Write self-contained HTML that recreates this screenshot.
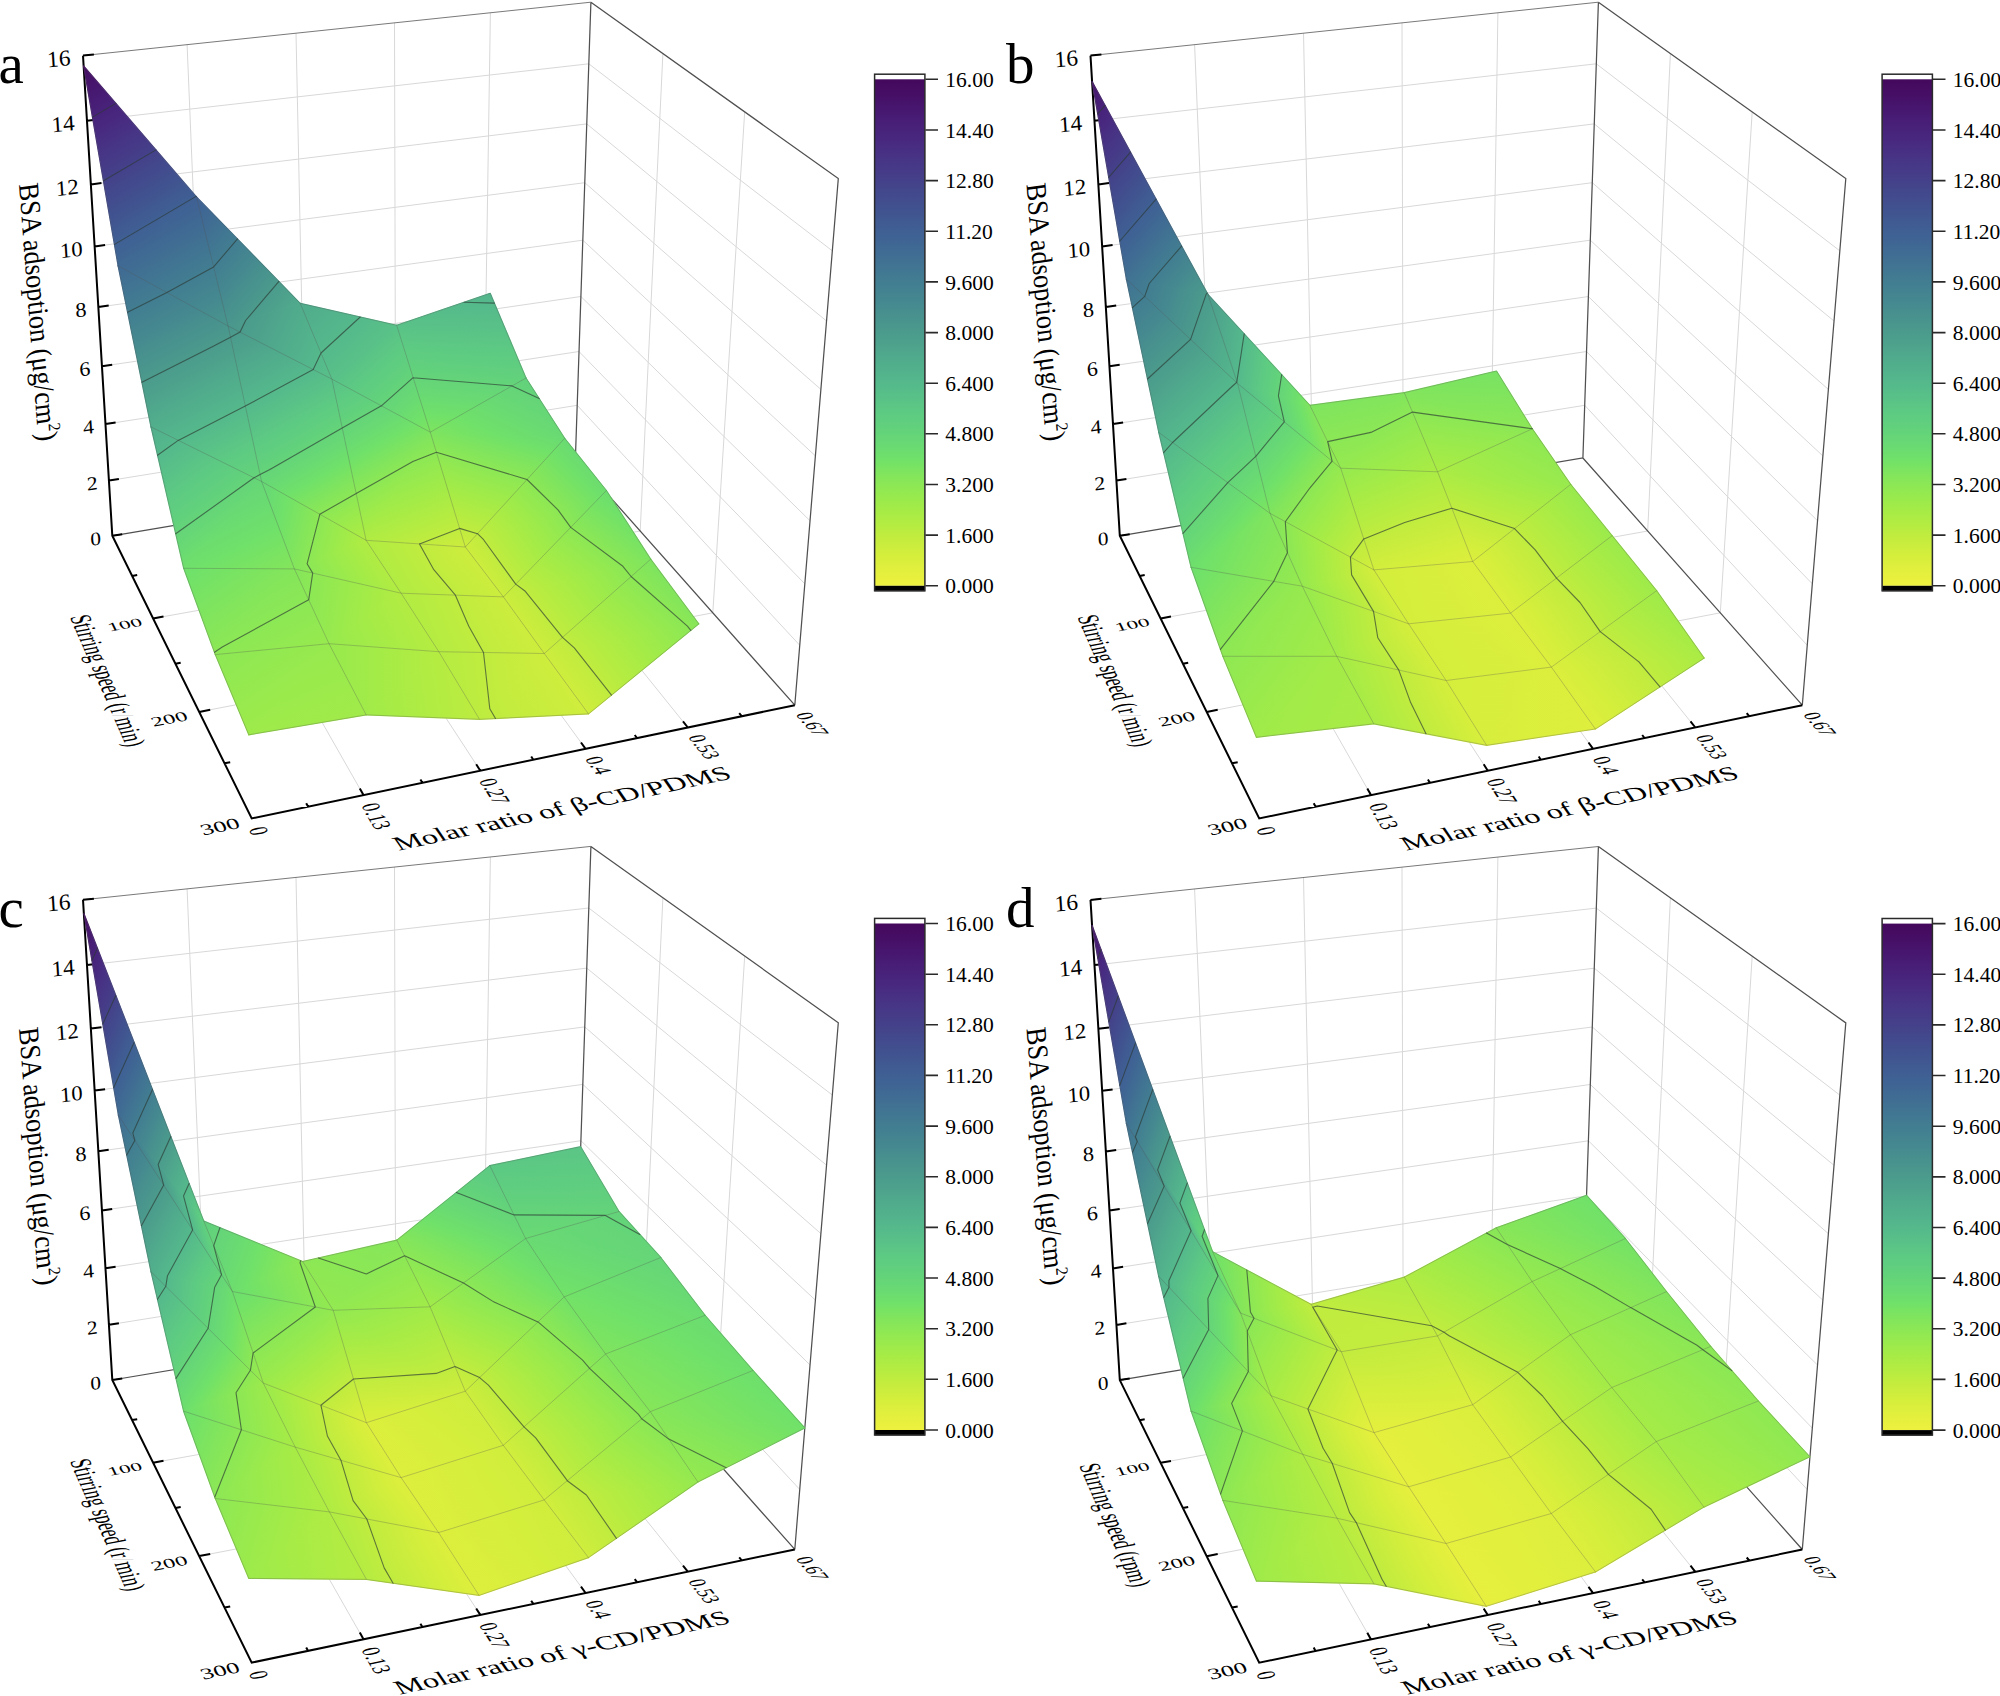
<!DOCTYPE html>
<html><head><meta charset="utf-8"><title>BSA adsorption surfaces</title>
<style>html,body{margin:0;padding:0;background:#fff}svg{display:block}</style></head>
<body><svg width="2000" height="1696" viewBox="0 0 2000 1696">
<rect width="2000" height="1696" fill="#fff"/>
<defs><linearGradient id="v" gradientUnits="userSpaceOnUse"><stop offset="0%" stop-color="#eef03e"/><stop offset="3.1%" stop-color="#e2ef3d"/><stop offset="6.2%" stop-color="#d4ee3c"/><stop offset="9.4%" stop-color="#c3ec3e"/><stop offset="12.5%" stop-color="#b2ec42"/><stop offset="15.6%" stop-color="#a2eb48"/><stop offset="18.8%" stop-color="#92e951"/><stop offset="21.9%" stop-color="#82e55c"/><stop offset="25%" stop-color="#70e169"/><stop offset="28.1%" stop-color="#68d974"/><stop offset="31.2%" stop-color="#62d17c"/><stop offset="34.4%" stop-color="#5dca83"/><stop offset="37.5%" stop-color="#58c088"/><stop offset="40.6%" stop-color="#54b78c"/><stop offset="43.8%" stop-color="#51ae8c"/><stop offset="46.9%" stop-color="#4ea48c"/><stop offset="50%" stop-color="#4b9b8c"/><stop offset="53.1%" stop-color="#48928e"/><stop offset="56.2%" stop-color="#458890"/><stop offset="59.4%" stop-color="#427f91"/><stop offset="62.5%" stop-color="#417692"/><stop offset="65.6%" stop-color="#406c93"/><stop offset="68.8%" stop-color="#3f6394"/><stop offset="71.9%" stop-color="#405a92"/><stop offset="75%" stop-color="#41508f"/><stop offset="78.1%" stop-color="#43478c"/><stop offset="81.2%" stop-color="#453d88"/><stop offset="84.4%" stop-color="#473485"/><stop offset="87.5%" stop-color="#482a80"/><stop offset="90.6%" stop-color="#482179"/><stop offset="93.8%" stop-color="#471870"/><stop offset="96.9%" stop-color="#460f66"/><stop offset="100%" stop-color="#44085c"/></linearGradient>
<linearGradient id="cb" x1="0" y1="1" x2="0" y2="0"><stop offset="0%" stop-color="#eef03e"/><stop offset="3.1%" stop-color="#e2ef3d"/><stop offset="6.2%" stop-color="#d4ee3c"/><stop offset="9.4%" stop-color="#c3ec3e"/><stop offset="12.5%" stop-color="#b2ec42"/><stop offset="15.6%" stop-color="#a2eb48"/><stop offset="18.8%" stop-color="#92e951"/><stop offset="21.9%" stop-color="#82e55c"/><stop offset="25%" stop-color="#70e169"/><stop offset="28.1%" stop-color="#68d974"/><stop offset="31.2%" stop-color="#62d17c"/><stop offset="34.4%" stop-color="#5dca83"/><stop offset="37.5%" stop-color="#58c088"/><stop offset="40.6%" stop-color="#54b78c"/><stop offset="43.8%" stop-color="#51ae8c"/><stop offset="46.9%" stop-color="#4ea48c"/><stop offset="50%" stop-color="#4b9b8c"/><stop offset="53.1%" stop-color="#48928e"/><stop offset="56.2%" stop-color="#458890"/><stop offset="59.4%" stop-color="#427f91"/><stop offset="62.5%" stop-color="#417692"/><stop offset="65.6%" stop-color="#406c93"/><stop offset="68.8%" stop-color="#3f6394"/><stop offset="71.9%" stop-color="#405a92"/><stop offset="75%" stop-color="#41508f"/><stop offset="78.1%" stop-color="#43478c"/><stop offset="81.2%" stop-color="#453d88"/><stop offset="84.4%" stop-color="#473485"/><stop offset="87.5%" stop-color="#482a80"/><stop offset="90.6%" stop-color="#482179"/><stop offset="93.8%" stop-color="#471870"/><stop offset="96.9%" stop-color="#460f66"/><stop offset="100%" stop-color="#44085c"/></linearGradient>
<linearGradient id="a1" href="#v" xlink:href="#v" x1="388" y1="638.5" x2="411.4" y2="-206.7"/>
<linearGradient id="a2" href="#v" xlink:href="#v" x1="374.6" y1="591.3" x2="434.1" y2="-126.5"/>
<linearGradient id="a3" href="#v" xlink:href="#v" x1="616.6" y1="648.3" x2="-88.8" y2="-120.9"/>
<linearGradient id="a4" href="#v" xlink:href="#v" x1="571.3" y1="521.9" x2="99.9" y2="-8.7"/>
<linearGradient id="a5" href="#v" xlink:href="#v" x1="510.7" y1="465.1" x2="61.2" y2="81.3"/>
<linearGradient id="a6" href="#v" xlink:href="#v" x1="633.7" y1="459.2" x2="-109.8" y2="111.7"/>
<linearGradient id="a7" href="#v" xlink:href="#v" x1="384.3" y1="576.4" x2="77.7" y2="55.8"/>
<linearGradient id="a8" href="#v" xlink:href="#v" x1="432.5" y1="628.5" x2="94.8" y2="11"/>
<linearGradient id="a9" href="#v" xlink:href="#v" x1="329.6" y1="646.3" x2="774.2" y2="-298.9"/>
<linearGradient id="a10" href="#v" xlink:href="#v" x1="387.2" y1="575.8" x2="577.3" y2="-58.2"/>
<linearGradient id="a11" href="#v" xlink:href="#v" x1="449.4" y1="587.6" x2="135.6" y2="30.9"/>
<linearGradient id="a12" href="#v" xlink:href="#v" x1="494.9" y1="599.8" x2="209.5" y2="-140.2"/>
<linearGradient id="a13" href="#v" xlink:href="#v" x1="392.8" y1="633.3" x2="73.9" y2="38.3"/>
<linearGradient id="a14" href="#v" xlink:href="#v" x1="450.6" y1="586.2" x2="133.5" y2="33.2"/>
<linearGradient id="a15" href="#v" xlink:href="#v" x1="324.9" y1="675.4" x2="14.7" y2="60.8"/>
<linearGradient id="a16" href="#v" xlink:href="#v" x1="388.1" y1="637.7" x2="78.2" y2="34.2"/>
<linearGradient id="a17" href="#v" xlink:href="#v" x1="426.5" y1="586.6" x2="940.5" y2="62.5"/>
<linearGradient id="a18" href="#v" xlink:href="#v" x1="417.8" y1="581.5" x2="1047.7" y2="125.2"/>
<linearGradient id="a19" href="#v" xlink:href="#v" x1="542.5" y1="441.7" x2="-830.1" y2="1208.5"/>
<linearGradient id="a20" href="#v" xlink:href="#v" x1="556.3" y1="470.1" x2="-648.1" y2="1488.8"/>
<linearGradient id="a21" href="#v" xlink:href="#v" x1="463.1" y1="533" x2="-231.9" y2="355.5"/>
<linearGradient id="a22" href="#v" xlink:href="#v" x1="462.5" y1="482.1" x2="-288" y2="934.5"/>
<linearGradient id="a23" href="#v" xlink:href="#v" x1="339.6" y1="691" x2="-93.1" y2="85.3"/>
<linearGradient id="a24" href="#v" xlink:href="#v" x1="424.3" y1="804.2" x2="-136.9" y2="-308.4"/>
<linearGradient id="a25" href="#v" xlink:href="#v" x1="467.1" y1="645.6" x2="935.2" y2="17.6"/>
<linearGradient id="a26" href="#v" xlink:href="#v" x1="448.1" y1="641.5" x2="1161.5" y2="66.5"/>
<linearGradient id="a27" href="#v" xlink:href="#v" x1="623.4" y1="497.8" x2="-1148.4" y2="1258.1"/>
<linearGradient id="a28" href="#v" xlink:href="#v" x1="637.2" y1="521.7" x2="-1089.1" y2="1492.3"/>
<linearGradient id="a29" href="#v" xlink:href="#v" x1="552.7" y1="608.2" x2="-646.1" y2="426.1"/>
<linearGradient id="a30" href="#v" xlink:href="#v" x1="589.2" y1="507" x2="-909.5" y2="1193.8"/>
<linearGradient id="a31" href="#v" xlink:href="#v" x1="406.8" y1="896.5" x2="-464.8" y2="-385.8"/>
<linearGradient id="a32" href="#v" xlink:href="#v" x1="520.7" y1="983.6" x2="-529.6" y2="-940.5"/>
<linearGradient id="a33" href="#v" xlink:href="#v" x1="500.1" y1="703.7" x2="1101.3" y2="20.3"/>
<linearGradient id="a34" href="#v" xlink:href="#v" x1="485.1" y1="700" x2="1290" y2="67.4"/>
<linearGradient id="a35" href="#v" xlink:href="#v" x1="709" y1="621.7" x2="-1552.4" y2="873"/>
<linearGradient id="a36" href="#v" xlink:href="#v" x1="723.4" y1="546.9" x2="-1713.1" y2="1997.7"/>
<linearGradient id="a37" href="#v" xlink:href="#v" x1="662.8" y1="640.8" x2="-1212.4" y2="656.9"/>
<linearGradient id="a38" href="#v" xlink:href="#v" x1="684.8" y1="614.7" x2="-1373.9" y2="924.8"/>
<linearGradient id="a39" href="#v" xlink:href="#v" x1="489.6" y1="1081" x2="-892.1" y2="-1067.3"/>
<linearGradient id="a40" href="#v" xlink:href="#v" x1="609.1" y1="1318.5" x2="-964.5" y2="-2472.8"/>
<linearGradient id="b1" href="#v" xlink:href="#v" x1="381.9" y1="726.3" x2="449.6" y2="-790"/>
<linearGradient id="b2" href="#v" xlink:href="#v" x1="369.4" y1="589.9" x2="494.2" y2="-306.6"/>
<linearGradient id="b3" href="#v" xlink:href="#v" x1="376.6" y1="756.2" x2="46" y2="-806.6"/>
<linearGradient id="b4" href="#v" xlink:href="#v" x1="498.3" y1="600.6" x2="37.1" y2="-344.3"/>
<linearGradient id="b5" href="#v" xlink:href="#v" x1="412.8" y1="327.4" x2="-14.5" y2="260.9"/>
<linearGradient id="b6" href="#v" xlink:href="#v" x1="385.6" y1="386.5" x2="15.2" y2="470.5"/>
<linearGradient id="b7" href="#v" xlink:href="#v" x1="443.9" y1="393.1" x2="65.9" y2="65.4"/>
<linearGradient id="b8" href="#v" xlink:href="#v" x1="470" y1="387.2" x2="-72.4" y2="200.4"/>
<linearGradient id="b9" href="#v" xlink:href="#v" x1="345.9" y1="635.2" x2="954" y2="-544.7"/>
<linearGradient id="b10" href="#v" xlink:href="#v" x1="396.4" y1="574.9" x2="639.5" y2="-169.1"/>
<linearGradient id="b11" href="#v" xlink:href="#v" x1="394.4" y1="621" x2="58.4" y2="-218.6"/>
<linearGradient id="b12" href="#v" xlink:href="#v" x1="470.8" y1="605.7" x2="176.9" y2="-361.2"/>
<linearGradient id="b13" href="#v" xlink:href="#v" x1="419.7" y1="540.5" x2="-57.2" y2="145.7"/>
<linearGradient id="b14" href="#v" xlink:href="#v" x1="441.3" y1="547.1" x2="-152.3" y2="113.7"/>
<linearGradient id="b15" href="#v" xlink:href="#v" x1="390.1" y1="574.9" x2="-33.6" y2="112.9"/>
<linearGradient id="b16" href="#v" xlink:href="#v" x1="412.9" y1="577.6" x2="-46.9" y2="89.4"/>
<linearGradient id="b17" href="#v" xlink:href="#v" x1="436" y1="589.9" x2="1107.2" y2="-62.5"/>
<linearGradient id="b18" href="#v" xlink:href="#v" x1="430.3" y1="587.9" x2="1231.4" y2="-19.4"/>
<linearGradient id="b19" href="#v" xlink:href="#v" x1="653.3" y1="477.1" x2="-3830.6" y2="1926.1"/>
<linearGradient id="b20" href="#v" xlink:href="#v" x1="655.1" y1="444.3" x2="-3711.9" y2="3138.7"/>
<linearGradient id="b21" href="#v" xlink:href="#v" x1="401.9" y1="503.7" x2="-221.9" y2="546.7"/>
<linearGradient id="b22" href="#v" xlink:href="#v" x1="399.4" y1="550.1" x2="-116.8" y2="859.2"/>
<linearGradient id="b23" href="#v" xlink:href="#v" x1="367.8" y1="623.6" x2="-141.7" y2="173.9"/>
<linearGradient id="b24" href="#v" xlink:href="#v" x1="543.1" y1="647.1" x2="-712.2" y2="48.5"/>
<linearGradient id="b25" href="#v" xlink:href="#v" x1="472.5" y1="642.5" x2="1192.3" y2="-49.7"/>
<linearGradient id="b26" href="#v" xlink:href="#v" x1="464.8" y1="639.7" x2="1365.5" y2="13.5"/>
<linearGradient id="b27" href="#v" xlink:href="#v" x1="582.3" y1="433.9" x2="-2411.9" y2="3573.3"/>
<linearGradient id="b28" href="#v" xlink:href="#v" x1="738.8" y1="423.1" x2="-4842.3" y2="3740.6"/>
<linearGradient id="b29" href="#v" xlink:href="#v" x1="441.9" y1="562.3" x2="-375.4" y2="694.9"/>
<linearGradient id="b30" href="#v" xlink:href="#v" x1="444.1" y1="595.8" x2="-266" y2="1058.8"/>
<linearGradient id="b31" href="#v" xlink:href="#v" x1="441.2" y1="769.9" x2="-557.1" y2="-15.4"/>
<linearGradient id="b32" href="#v" xlink:href="#v" x1="662.1" y1="791.6" x2="-1378.7" y2="-349.6"/>
<linearGradient id="b33" href="#v" xlink:href="#v" x1="514.6" y1="704.4" x2="1165.4" y2="-126"/>
<linearGradient id="b34" href="#v" xlink:href="#v" x1="500.1" y1="704.1" x2="1474.5" y2="-119.3"/>
<linearGradient id="b35" href="#v" xlink:href="#v" x1="839.1" y1="748.6" x2="-5835.5" y2="-386.6"/>
<linearGradient id="b36" href="#v" xlink:href="#v" x1="936.1" y1="664.3" x2="-7779.5" y2="726.2"/>
<linearGradient id="b37" href="#v" xlink:href="#v" x1="475.7" y1="603.1" x2="-484.7" y2="952.4"/>
<linearGradient id="b38" href="#v" xlink:href="#v" x1="494.5" y1="653.1" x2="-436.5" y2="1110.4"/>
<linearGradient id="b39" href="#v" xlink:href="#v" x1="551.7" y1="906.5" x2="-1173" y2="-376.5"/>
<linearGradient id="b40" href="#v" xlink:href="#v" x1="1072.6" y1="990.4" x2="-3801.7" y2="-1200.4"/>
<linearGradient id="c1" href="#v" xlink:href="#v" x1="509.3" y1="725.3" x2="453.2" y2="-432"/>
<linearGradient id="c2" href="#v" xlink:href="#v" x1="487.7" y1="671.6" x2="493.6" y2="-332"/>
<linearGradient id="c3" href="#v" xlink:href="#v" x1="338.2" y1="545.9" x2="614" y2="-159.3"/>
<linearGradient id="c4" href="#v" xlink:href="#v" x1="319.3" y1="563.6" x2="684.2" y2="-224.9"/>
<linearGradient id="c5" href="#v" xlink:href="#v" x1="94.7" y1="1041.8" x2="1147.7" y2="-2120.2"/>
<linearGradient id="c6" href="#v" xlink:href="#v" x1="523.3" y1="663.4" x2="-72" y2="-594.9"/>
<linearGradient id="c7" href="#v" xlink:href="#v" x1="467" y1="468.3" x2="-355.5" y2="182.7"/>
<linearGradient id="c8" href="#v" xlink:href="#v" x1="521.5" y1="341.7" x2="-586.6" y2="724.9"/>
<linearGradient id="c9" href="#v" xlink:href="#v" x1="404.3" y1="214.5" x2="75.3" y2="65.5"/>
<linearGradient id="c10" href="#v" xlink:href="#v" x1="254.4" y1="363.4" x2="96.3" y2="405.7"/>
<linearGradient id="c11" href="#v" xlink:href="#v" x1="190.8" y1="1000.1" x2="1401.8" y2="-1190.7"/>
<linearGradient id="c12" href="#v" xlink:href="#v" x1="403.6" y1="746.9" x2="844.9" y2="-528.3"/>
<linearGradient id="c13" href="#v" xlink:href="#v" x1="352.4" y1="587.2" x2="841" y2="-196.2"/>
<linearGradient id="c14" href="#v" xlink:href="#v" x1="381.2" y1="571" x2="689" y2="-110.2"/>
<linearGradient id="c15" href="#v" xlink:href="#v" x1="403.5" y1="657.7" x2="26.6" y2="-369.5"/>
<linearGradient id="c16" href="#v" xlink:href="#v" x1="343.5" y1="616.6" x2="288.2" y2="-190"/>
<linearGradient id="c17" href="#v" xlink:href="#v" x1="386.9" y1="655.9" x2="-201.8" y2="-139"/>
<linearGradient id="c18" href="#v" xlink:href="#v" x1="422.6" y1="577.7" x2="-56.8" y2="-20.6"/>
<linearGradient id="c19" href="#v" xlink:href="#v" x1="388.3" y1="418.9" x2="-22.8" y2="193.4"/>
<linearGradient id="c20" href="#v" xlink:href="#v" x1="357.8" y1="467.4" x2="-120.1" y2="390.7"/>
<linearGradient id="c21" href="#v" xlink:href="#v" x1="433.5" y1="776.5" x2="967" y2="-545.2"/>
<linearGradient id="c22" href="#v" xlink:href="#v" x1="391.5" y1="827.9" x2="1096.5" y2="-703.7"/>
<linearGradient id="c23" href="#v" xlink:href="#v" x1="425.9" y1="593.1" x2="947.7" y2="-16.3"/>
<linearGradient id="c24" href="#v" xlink:href="#v" x1="414.8" y1="590.1" x2="1083.8" y2="20.2"/>
<linearGradient id="c25" href="#v" xlink:href="#v" x1="289.5" y1="678.2" x2="1999.5" y2="-1537.3"/>
<linearGradient id="c26" href="#v" xlink:href="#v" x1="265.8" y1="686.2" x2="2503" y2="-1707"/>
<linearGradient id="c27" href="#v" xlink:href="#v" x1="386.6" y1="512.6" x2="-341" y2="667.8"/>
<linearGradient id="c28" href="#v" xlink:href="#v" x1="395.4" y1="562.4" x2="-249.1" y2="920.5"/>
<linearGradient id="c29" href="#v" xlink:href="#v" x1="364.3" y1="564.3" x2="-126" y2="249.8"/>
<linearGradient id="c30" href="#v" xlink:href="#v" x1="419.4" y1="516.1" x2="-501.9" y2="650.4"/>
<linearGradient id="c31" href="#v" xlink:href="#v" x1="389" y1="866.9" x2="1353.9" y2="-723.7"/>
<linearGradient id="c32" href="#v" xlink:href="#v" x1="375.4" y1="875.7" x2="1401" y2="-754.2"/>
<linearGradient id="c33" href="#v" xlink:href="#v" x1="462.2" y1="644.8" x2="1062.5" y2="7.2"/>
<linearGradient id="c34" href="#v" xlink:href="#v" x1="450.1" y1="640.4" x2="1227.1" y2="66.1"/>
<linearGradient id="c35" href="#v" xlink:href="#v" x1="263.2" y1="691.6" x2="3712.7" y2="-762.2"/>
<linearGradient id="c36" href="#v" xlink:href="#v" x1="272" y1="763.9" x2="3648.4" y2="-1612.8"/>
<linearGradient id="c37" href="#v" xlink:href="#v" x1="417.5" y1="565.9" x2="-423" y2="819.6"/>
<linearGradient id="c38" href="#v" xlink:href="#v" x1="429" y1="612.5" x2="-268.3" y2="1134.8"/>
<linearGradient id="c39" href="#v" xlink:href="#v" x1="432.3" y1="665.4" x2="-529.8" y2="284.8"/>
<linearGradient id="c40" href="#v" xlink:href="#v" x1="526.6" y1="573" x2="-1064.1" y2="778.2"/>
<linearGradient id="c41" href="#v" xlink:href="#v" x1="400.3" y1="912.2" x2="1582.3" y2="-717.8"/>
<linearGradient id="c42" href="#v" xlink:href="#v" x1="516.8" y1="834.9" x2="1147.9" y2="-429.7"/>
<linearGradient id="c43" href="#v" xlink:href="#v" x1="505.3" y1="707.7" x2="1069.6" y2="-45.9"/>
<linearGradient id="c44" href="#v" xlink:href="#v" x1="475.6" y1="703" x2="1470.1" y2="16.2"/>
<linearGradient id="c45" href="#v" xlink:href="#v" x1="273.5" y1="773.8" x2="4068" y2="-1188.4"/>
<linearGradient id="c46" href="#v" xlink:href="#v" x1="325.8" y1="785.4" x2="2918.2" y2="-1443.5"/>
<linearGradient id="c47" href="#v" xlink:href="#v" x1="465.6" y1="619.4" x2="-585.8" y2="992.2"/>
<linearGradient id="c48" href="#v" xlink:href="#v" x1="481.6" y1="663.4" x2="-508.8" y2="1238.9"/>
<linearGradient id="c49" href="#v" xlink:href="#v" x1="528.1" y1="742.3" x2="-1043.7" y2="300"/>
<linearGradient id="c50" href="#v" xlink:href="#v" x1="643.1" y1="622.4" x2="-1779.2" y2="972.5"/>
<linearGradient id="d1" href="#v" xlink:href="#v" x1="266.8" y1="698.3" x2="1331.2" y2="-811.7"/>
<linearGradient id="d2" href="#v" xlink:href="#v" x1="381.4" y1="618" x2="896.2" y2="-507"/>
<linearGradient id="d3" href="#v" xlink:href="#v" x1="329.6" y1="555.9" x2="853.3" y2="-402"/>
<linearGradient id="d4" href="#v" xlink:href="#v" x1="333.3" y1="553.2" x2="828.2" y2="-384.1"/>
<linearGradient id="d5" href="#v" xlink:href="#v" x1="277.8" y1="610.2" x2="535.1" y2="-885.6"/>
<linearGradient id="d6" href="#v" xlink:href="#v" x1="570.3" y1="1436.3" x2="-2088.8" y2="-8295"/>
<linearGradient id="d7" href="#v" xlink:href="#v" x1="359.6" y1="394.1" x2="-251.2" y2="447"/>
<linearGradient id="d8" href="#v" xlink:href="#v" x1="353.1" y1="432.1" x2="-140.2" y2="711.5"/>
<linearGradient id="d9" href="#v" xlink:href="#v" x1="373.1" y1="187.2" x2="69.9" y2="75.7"/>
<linearGradient id="d10" href="#v" xlink:href="#v" x1="224.3" y1="399.7" x2="148.3" y2="430.4"/>
<linearGradient id="d11" href="#v" xlink:href="#v" x1="418" y1="644.1" x2="1007.2" y2="-498.6"/>
<linearGradient id="d12" href="#v" xlink:href="#v" x1="390.7" y1="664.2" x2="1130.5" y2="-589.6"/>
<linearGradient id="d13" href="#v" xlink:href="#v" x1="367.1" y1="578.7" x2="1035.9" y2="-348"/>
<linearGradient id="d14" href="#v" xlink:href="#v" x1="389.4" y1="568" x2="821.6" y2="-245.1"/>
<linearGradient id="d15" href="#v" xlink:href="#v" x1="359.9" y1="651.4" x2="85.9" y2="-864.1"/>
<linearGradient id="d16" href="#v" xlink:href="#v" x1="336.3" y1="615.8" x2="310.4" y2="-525"/>
<linearGradient id="d17" href="#v" xlink:href="#v" x1="403" y1="556.7" x2="-383.5" y2="149.8"/>
<linearGradient id="d18" href="#v" xlink:href="#v" x1="411.4" y1="545.9" x2="-405.5" y2="141.1"/>
<linearGradient id="d19" href="#v" xlink:href="#v" x1="369.2" y1="390.4" x2="-21.6" y2="216.4"/>
<linearGradient id="d20" href="#v" xlink:href="#v" x1="316.3" y1="466.7" x2="-68.8" y2="476.8"/>
<linearGradient id="d21" href="#v" xlink:href="#v" x1="447.2" y1="694.3" x2="1157.9" y2="-556.7"/>
<linearGradient id="d22" href="#v" xlink:href="#v" x1="383.6" y1="728.3" x2="1484.2" y2="-731.6"/>
<linearGradient id="d23" href="#v" xlink:href="#v" x1="433" y1="593.9" x2="1132.4" y2="-135.6"/>
<linearGradient id="d24" href="#v" xlink:href="#v" x1="425" y1="592.2" x2="1297.7" y2="-99.2"/>
<linearGradient id="d25" href="#v" xlink:href="#v" x1="300" y1="654.3" x2="3128.7" y2="-2154.3"/>
<linearGradient id="d26" href="#v" xlink:href="#v" x1="296.7" y1="654.8" x2="3266.4" y2="-2174.9"/>
<linearGradient id="d27" href="#v" xlink:href="#v" x1="355.8" y1="515.7" x2="-290.7" y2="767.2"/>
<linearGradient id="d28" href="#v" xlink:href="#v" x1="380.2" y1="580.2" x2="-200.3" y2="925.9"/>
<linearGradient id="d29" href="#v" xlink:href="#v" x1="357.6" y1="540.4" x2="-126.8" y2="285.8"/>
<linearGradient id="d30" href="#v" xlink:href="#v" x1="354.9" y1="515.9" x2="-285.5" y2="765.9"/>
<linearGradient id="d31" href="#v" xlink:href="#v" x1="441.7" y1="767.9" x2="1500.7" y2="-696"/>
<linearGradient id="d32" href="#v" xlink:href="#v" x1="366.8" y1="788.4" x2="1914.1" y2="-809"/>
<linearGradient id="d33" href="#v" xlink:href="#v" x1="467.8" y1="645.2" x2="1279.5" y2="-103.6"/>
<linearGradient id="d34" href="#v" xlink:href="#v" x1="463.7" y1="644.2" x2="1369" y2="-80.1"/>
<linearGradient id="d35" href="#v" xlink:href="#v" x1="343.7" y1="701.5" x2="3148.2" y2="-2178.5"/>
<linearGradient id="d36" href="#v" xlink:href="#v" x1="305.9" y1="699.8" x2="4950.3" y2="-2097.7"/>
<linearGradient id="d37" href="#v" xlink:href="#v" x1="394.8" y1="574.8" x2="-367.1" y2="844.7"/>
<linearGradient id="d38" href="#v" xlink:href="#v" x1="414.8" y1="633.4" x2="-249.2" y2="1076"/>
<linearGradient id="d39" href="#v" xlink:href="#v" x1="411.7" y1="645.6" x2="-469.1" y2="341.3"/>
<linearGradient id="d40" href="#v" xlink:href="#v" x1="468.1" y1="568.7" x2="-855.9" y2="885.7"/>
<linearGradient id="d41" href="#v" xlink:href="#v" x1="427.6" y1="840.3" x2="1902.1" y2="-780.8"/>
<linearGradient id="d42" href="#v" xlink:href="#v" x1="518.3" y1="805" x2="1388.1" y2="-580.5"/>
<linearGradient id="d43" href="#v" xlink:href="#v" x1="515.2" y1="704.2" x2="1222" y2="-159.7"/>
<linearGradient id="d44" href="#v" xlink:href="#v" x1="496.2" y1="701.7" x2="1673" y2="-101.1"/>
<linearGradient id="d45" href="#v" xlink:href="#v" x1="334.4" y1="750.5" x2="5293" y2="-1690.5"/>
<linearGradient id="d46" href="#v" xlink:href="#v" x1="370.5" y1="758.2" x2="3606.2" y2="-2051.2"/>
<linearGradient id="d47" href="#v" xlink:href="#v" x1="428" y1="629.2" x2="-414" y2="1011.2"/>
<linearGradient id="d48" href="#v" xlink:href="#v" x1="455.2" y1="689.2" x2="-340.3" y2="1166"/>
<linearGradient id="d49" href="#v" xlink:href="#v" x1="495.2" y1="720" x2="-936" y2="392.9"/>
<linearGradient id="d50" href="#v" xlink:href="#v" x1="572.7" y1="596.5" x2="-1505.4" y2="1257.3"/></defs>
<g transform="translate(0,0)">
<path d="M206.8,519.9 L187.1,44.7 M206.8,519.9 L363.5,795.1 M305.9,503.3 L296,33.2 M305.9,503.3 L480.3,770.7 M395.7,488.2 L394.5,22.9 M395.7,488.2 L585.6,748.8 M483.3,473.5 L490.4,12.8 M483.3,473.5 L687.8,727.5 M640.2,531 L662.9,53.6 M153.1,618.5 L640.2,531 M712.8,612.8 L744.7,111.9 M199.2,711.9 L712.8,612.8 M109,480.6 L577.2,405.3 L799.7,645.2 M105.5,424.1 L579,351.5 L804.8,583.8 M102,366.2 L580.9,296.5 L810,520.7 M98.4,307.1 L582.8,240.2 L815.4,455.9 M94.7,246.4 L584.8,182.7 L820.9,389.4 M90.9,184.4 L586.8,123.9 L826.5,321 M87,120.8 L588.8,63.8 L832.3,250.8" fill="none" stroke="#d8d8d8" stroke-width="1"/>
<path d="M83,55.6 L590.9,2.2" fill="none" stroke="#6a6a6a" stroke-width="0.9"/>
<path d="M590.9,2.2 L838.3,178.6 L794.8,705.2 M590.9,2.2 L575.4,458 M112.3,535.8 L575.4,458 L794.8,705.2" fill="none" stroke="#505050" stroke-width="1.25"/>
<path d="M83,55.6 L112.3,535.8 L251.7,818.4 L794.8,705.2 M112.3,535.8 L122.2,534.2 M109,480.6 L118.9,479 M105.5,424.1 L115.6,422.5 M102,366.2 L112.2,364.8 M98.4,307.1 L108.7,305.6 M94.7,246.4 L105.1,245.1 M90.9,184.4 L101.5,183.1 M87,120.8 L97.7,119.6 M83,55.6 L93.9,54.5 M132.1,575.9 L137.2,575 M153.1,618.5 L163.5,616.6 M175.4,663.7 L180.7,662.7 M199.2,711.9 L210.2,709.8 M224.5,763.3 L230.2,762.2 M308,806.6 L306.2,803.3 M363.5,795.1 L359.8,788.4 M422.4,782.8 L420.4,779.5 M480.3,770.7 L476.2,764.3 M533.3,759.7 L531.2,756.5 M585.6,748.8 L581,742.5 M637.1,738 L634.7,735 M687.8,727.5 L683,721.4 M741.7,716.2 L739.2,713.2" fill="none" stroke="#000" stroke-width="2" stroke-linejoin="miter"/>
<g stroke-linejoin="round">
<polygon points="396.7,325.3 490.2,293.3 526,378" fill="url(#a1)" stroke="url(#a1)" stroke-width="1.2"/>
<polygon points="396.7,325.3 526,378 430.3,432.2" fill="url(#a2)" stroke="url(#a2)" stroke-width="1.2"/>
<polygon points="300.2,303.3 396.7,325.3 331.9,379.1" fill="url(#a3)" stroke="url(#a3)" stroke-width="1.2"/>
<polygon points="396.7,325.3 430.3,432.2 331.9,379.1" fill="url(#a4)" stroke="url(#a4)" stroke-width="1.2"/>
<polygon points="196.5,196.9 300.2,303.3 228.1,326" fill="url(#a5)" stroke="url(#a5)" stroke-width="1.2"/>
<polygon points="300.2,303.3 331.9,379.1 228.1,326" fill="url(#a6)" stroke="url(#a6)" stroke-width="1.2"/>
<polygon points="83.6,65.9 196.5,196.9 118.1,265.8" fill="url(#a7)" stroke="url(#a7)" stroke-width="1.2"/>
<polygon points="196.5,196.9 228.1,326 118.1,265.8" fill="url(#a8)" stroke="url(#a8)" stroke-width="1.2"/>
<polygon points="430.3,432.2 526,378 564.7,438.3" fill="url(#a9)" stroke="url(#a9)" stroke-width="1.2"/>
<polygon points="430.3,432.2 564.7,438.3 465.3,547" fill="url(#a10)" stroke="url(#a10)" stroke-width="1.2"/>
<polygon points="331.9,379.1 430.3,432.2 366.1,540.3" fill="url(#a11)" stroke="url(#a11)" stroke-width="1.2"/>
<polygon points="430.3,432.2 465.3,547 366.1,540.3" fill="url(#a12)" stroke="url(#a12)" stroke-width="1.2"/>
<polygon points="228.1,326 331.9,379.1 261.6,481.5" fill="url(#a13)" stroke="url(#a13)" stroke-width="1.2"/>
<polygon points="331.9,379.1 366.1,540.3 261.6,481.5" fill="url(#a14)" stroke="url(#a14)" stroke-width="1.2"/>
<polygon points="118.1,265.8 228.1,326 151,426.9" fill="url(#a15)" stroke="url(#a15)" stroke-width="1.2"/>
<polygon points="228.1,326 261.6,481.5 151,426.9" fill="url(#a16)" stroke="url(#a16)" stroke-width="1.2"/>
<polygon points="465.3,547 564.7,438.3 606.4,490.5" fill="url(#a17)" stroke="url(#a17)" stroke-width="1.2"/>
<polygon points="465.3,547 606.4,490.5 503.4,596.9" fill="url(#a18)" stroke="url(#a18)" stroke-width="1.2"/>
<polygon points="366.1,540.3 465.3,547 401.1,593.2" fill="url(#a19)" stroke="url(#a19)" stroke-width="1.2"/>
<polygon points="465.3,547 503.4,596.9 401.1,593.2" fill="url(#a20)" stroke="url(#a20)" stroke-width="1.2"/>
<polygon points="261.6,481.5 366.1,540.3 294.4,568.9" fill="url(#a21)" stroke="url(#a21)" stroke-width="1.2"/>
<polygon points="366.1,540.3 401.1,593.2 294.4,568.9" fill="url(#a22)" stroke="url(#a22)" stroke-width="1.2"/>
<polygon points="151,426.9 261.6,481.5 183.7,568.3" fill="url(#a23)" stroke="url(#a23)" stroke-width="1.2"/>
<polygon points="261.6,481.5 294.4,568.9 183.7,568.3" fill="url(#a24)" stroke="url(#a24)" stroke-width="1.2"/>
<polygon points="503.4,596.9 606.4,490.5 650.7,559.2" fill="url(#a25)" stroke="url(#a25)" stroke-width="1.2"/>
<polygon points="503.4,596.9 650.7,559.2 544.3,653.5" fill="url(#a26)" stroke="url(#a26)" stroke-width="1.2"/>
<polygon points="401.1,593.2 503.4,596.9 438.8,651.7" fill="url(#a27)" stroke="url(#a27)" stroke-width="1.2"/>
<polygon points="503.4,596.9 544.3,653.5 438.8,651.7" fill="url(#a28)" stroke="url(#a28)" stroke-width="1.2"/>
<polygon points="294.4,568.9 401.1,593.2 329,643.7" fill="url(#a29)" stroke="url(#a29)" stroke-width="1.2"/>
<polygon points="401.1,593.2 438.8,651.7 329,643.7" fill="url(#a30)" stroke="url(#a30)" stroke-width="1.2"/>
<polygon points="183.7,568.3 294.4,568.9 215.3,654.6" fill="url(#a31)" stroke="url(#a31)" stroke-width="1.2"/>
<polygon points="294.4,568.9 329,643.7 215.3,654.6" fill="url(#a32)" stroke="url(#a32)" stroke-width="1.2"/>
<polygon points="544.3,653.5 650.7,559.2 698.8,623.9" fill="url(#a33)" stroke="url(#a33)" stroke-width="1.2"/>
<polygon points="544.3,653.5 698.8,623.9 588.5,713.9" fill="url(#a34)" stroke="url(#a34)" stroke-width="1.2"/>
<polygon points="438.8,651.7 544.3,653.5 479.5,719.3" fill="url(#a35)" stroke="url(#a35)" stroke-width="1.2"/>
<polygon points="544.3,653.5 588.5,713.9 479.5,719.3" fill="url(#a36)" stroke="url(#a36)" stroke-width="1.2"/>
<polygon points="329,643.7 438.8,651.7 366.2,714.9" fill="url(#a37)" stroke="url(#a37)" stroke-width="1.2"/>
<polygon points="438.8,651.7 479.5,719.3 366.2,714.9" fill="url(#a38)" stroke="url(#a38)" stroke-width="1.2"/>
<polygon points="215.3,654.6 329,643.7 248.8,734.8" fill="url(#a39)" stroke="url(#a39)" stroke-width="1.2"/>
<polygon points="329,643.7 366.2,714.9 248.8,734.8" fill="url(#a40)" stroke="url(#a40)" stroke-width="1.2"/>
</g>
<path d="M83.6,65.9 L196.5,196.9 L300.2,303.3 L396.7,325.3 L490.2,293.3 M118.1,265.8 L228.1,326 L331.9,379.1 L430.3,432.2 L526,378 M151,426.9 L261.6,481.5 L366.1,540.3 L465.3,547 L564.7,438.3 M183.7,568.3 L294.4,568.9 L401.1,593.2 L503.4,596.9 L606.4,490.5 M215.3,654.6 L329,643.7 L438.8,651.7 L544.3,653.5 L650.7,559.2 M248.8,734.8 L366.2,714.9 L479.5,719.3 L588.5,713.9 L698.8,623.9 M83.6,65.9 L118.1,265.8 L151,426.9 L183.7,568.3 L215.3,654.6 L248.8,734.8 M196.5,196.9 L228.1,326 L261.6,481.5 L294.4,568.9 L329,643.7 L366.2,714.9 M300.2,303.3 L331.9,379.1 L366.1,540.3 L401.1,593.2 L438.8,651.7 L479.5,719.3 M396.7,325.3 L430.3,432.2 L465.3,547 L503.4,596.9 L544.3,653.5 L588.5,713.9 M490.2,293.3 L526,378 L564.7,438.3 L606.4,490.5 L650.7,559.2 L698.8,623.9" fill="none" stroke="#505050" stroke-opacity="0.33" stroke-width="0.9" stroke-linejoin="round"/>
<path d="M464,302.2 L494.4,303.1 M512.1,385.9 L413.1,377.7 M360.2,317 L321,353 M413.1,377.7 L381.4,405.8 M278.9,281.4 L245.6,320.5 M237.5,238.9 L213.6,266.9 M321,353 L313.2,369.6 M240.1,332.1 L245.6,320.5 M196.1,196.4 L114.5,244.4 M156,149.9 L103.5,180.8 M115.9,103.4 L92.5,117.1 M213.6,266.9 L166.9,292.5 M512.1,385.9 L539.2,398.6 M477.5,533.7 L459.6,528.4 M527,479.5 L436.4,452.3 M412.9,461.4 L356.2,493.4 M381.4,405.8 L342.2,427.9 M459.6,528.4 L419.5,543.9 M436.4,452.3 L412.9,461.4 M269.9,469.4 L260.1,474.6 M313.2,369.6 L245.3,406 M240.1,332.1 L230.5,337.3 M356.2,493.4 L319.8,514.3 M342.2,427.9 L269.9,469.4 M212.3,346.7 L141.9,382.2 M166.9,292.5 L127.6,312.3 M260.1,474.6 L254,477.8 M245.3,406 L178.2,440.4 M230.5,337.3 L212.3,346.7 M477.5,533.7 L483.6,539.7 M527,479.5 L558,509.9 M483.6,539.7 L515.7,584.1 M558,509.9 L570.7,527.4 M419.5,543.9 L433.8,569.7 M455.4,595.2 L433.8,569.7 M319.8,514.3 L307.1,563.8 M312.7,573.1 L307.1,563.8 M254,477.8 L175.7,533.7 M178.2,440.4 L157.5,455.2 M515.7,584.1 L525.3,591.3 M570.7,527.4 L622.9,566.3 M525.3,591.3 L562.5,637.4 M622.9,566.3 L631.1,576.5 M455.4,595.2 L468.8,626.3 M483.5,652.5 L468.8,626.3 M312.7,573.1 L308.7,599.8 M222.3,647 L214.5,652.3 M308.7,599.8 L222.3,647 M562.5,637.4 L574.3,647.8 M631.1,576.5 L687.4,626.1 M574.3,647.8 L611.5,695.1 M687.4,626.1 L690.8,630.4 M483.5,652.5 L489.8,708.8 M495.5,718.5 L489.8,708.8" fill="none" stroke="#2c3a34" stroke-opacity="0.66" stroke-width="1.1" stroke-linecap="round"/>
<g font-family="Liberation Serif,Times New Roman,serif" fill="#000">
<text transform="matrix(1.0610 -0.1791 0.0595 0.9378 101.4 544.3)" font-size="20" text-anchor="end" x="0" y="0" >0</text>
<text transform="matrix(1.0736 -0.1735 0.0608 0.9593 97.9 489.1)" font-size="20" text-anchor="end" x="0" y="0" >2</text>
<text transform="matrix(1.0865 -0.1675 0.0622 0.9815 94.3 432.7)" font-size="20" text-anchor="end" x="0" y="0" >4</text>
<text transform="matrix(1.0997 -0.1612 0.0637 1.0046 90.7 375)" font-size="20" text-anchor="end" x="0" y="0" >6</text>
<text transform="matrix(1.1132 -0.1546 0.0652 1.0284 86.9 315.9)" font-size="20" text-anchor="end" x="0" y="0" >8</text>
<text transform="matrix(1.1270 -0.1476 0.0668 1.0531 83.1 255.4)" font-size="20" text-anchor="end" x="0" y="0" >10</text>
<text transform="matrix(1.1412 -0.1403 0.0684 1.0787 79.1 193.4)" font-size="20" text-anchor="end" x="0" y="0" >12</text>
<text transform="matrix(1.1558 -0.1325 0.0701 1.1052 75.1 129.9)" font-size="20" text-anchor="end" x="0" y="0" >14</text>
<text transform="matrix(1.1707 -0.1243 0.0718 1.1328 71 64.9)" font-size="20" text-anchor="end" x="0" y="0" >16</text>
<text transform="matrix(1.1254 -0.2029 0.2765 0.5714 143.5 625.5)" font-size="20" text-anchor="end" x="0" y="0" >100</text>
<text transform="matrix(1.1920 -0.2310 0.3140 0.6488 189.2 719.9)" font-size="20" text-anchor="end" x="0" y="0" >200</text>
<text transform="matrix(1.2670 -0.2653 0.3597 0.7431 241.3 827.6)" font-size="20" text-anchor="end" x="0" y="0" >300</text>
<text transform="matrix(0.3632 0.7444 -1.2669 0.2657 248.4 828.9)" font-size="20" text-anchor="start" x="0" y="0" >0</text>
<text transform="matrix(0.4081 0.7227 -1.2294 0.2578 361 805.3)" font-size="20" text-anchor="start" x="0" y="0" >0.13</text>
<text transform="matrix(0.4533 0.7005 -1.1909 0.2498 478.6 780.6)" font-size="20" text-anchor="start" x="0" y="0" >0.27</text>
<text transform="matrix(0.4927 0.6807 -1.1567 0.2426 584.6 758.4)" font-size="20" text-anchor="start" x="0" y="0" >0.4</text>
<text transform="matrix(0.5296 0.6618 -1.1240 0.2357 687.5 736.8)" font-size="20" text-anchor="start" x="0" y="0" >0.53</text>
<text transform="matrix(0.5668 0.6423 -1.0903 0.2287 795 714.3)" font-size="20" text-anchor="start" x="0" y="0" >0.67</text>
<text transform="matrix(1.5086 -0.3273 0.6305 0.9171 566 814.4)" font-size="20" text-anchor="middle" x="0" y="0" >Molar ratio of β-CD/PDMS</text>
<text transform="matrix(0.3292 0.7563 -1.4413 0.2690 98.2 682.4)" font-size="20" text-anchor="middle" x="0" y="0" >Stirring speed (r<tspan fill="#ddd">/</tspan>min)</text>
<text transform="matrix(0.0986 1.3175 -1.4361 0.1975 28.7 313.2)" font-size="20" text-anchor="middle" x="0" y="0" >BSA adsoption (μg/cm<tspan font-size="12" dy="-8">2</tspan><tspan dy="8">)</tspan></text>
</g>
<text x="-1.6" y="82.8" font-size="57" font-family="Liberation Serif,Times New Roman,serif">a</text>
<rect x="874.6" y="79.3" width="50.3" height="506.5" fill="url(#cb)"/>
<rect x="874.6" y="585.8" width="50.3" height="5.4" fill="#000"/>
<rect x="874.6" y="74.2" width="50.3" height="516.6" fill="none" stroke="#2a2a2a" stroke-width="1.5"/>
<path d="M925.4,585.8 h12.6 M925.4,535.1 h12.6 M925.4,484.5 h12.6 M925.4,433.8 h12.6 M925.4,383.2 h12.6 M925.4,332.6 h12.6 M925.4,281.9 h12.6 M925.4,231.2 h12.6 M925.4,180.6 h12.6 M925.4,130 h12.6 M925.4,79.3 h12.6" stroke="#2a2a2a" stroke-width="1.6"/>
<g font-family="Liberation Serif,Times New Roman,serif" font-size="21.5" fill="#000">
<text x="945.3" y="593.4">0.000</text>
<text x="945.3" y="542.8">1.600</text>
<text x="945.3" y="492.1">3.200</text>
<text x="945.3" y="441.4">4.800</text>
<text x="945.3" y="390.8">6.400</text>
<text x="945.3" y="340.2">8.000</text>
<text x="945.3" y="289.5">9.600</text>
<text x="945.3" y="238.8">11.20</text>
<text x="945.3" y="188.2">12.80</text>
<text x="945.3" y="137.6">14.40</text>
<text x="945.3" y="86.9">16.00</text>
</g>
</g>
<g transform="translate(1007.5,0)">
<path d="M206.8,519.9 L187.1,44.7 M206.8,519.9 L363.5,795.1 M305.9,503.3 L296,33.2 M305.9,503.3 L480.3,770.7 M395.7,488.2 L394.5,22.9 M395.7,488.2 L585.6,748.8 M483.3,473.5 L490.4,12.8 M483.3,473.5 L687.8,727.5 M640.2,531 L662.9,53.6 M153.1,618.5 L640.2,531 M712.8,612.8 L744.7,111.9 M199.2,711.9 L712.8,612.8 M109,480.6 L577.2,405.3 L799.7,645.2 M105.5,424.1 L579,351.5 L804.8,583.8 M102,366.2 L580.9,296.5 L810,520.7 M98.4,307.1 L582.8,240.2 L815.4,455.9 M94.7,246.4 L584.8,182.7 L820.9,389.4 M90.9,184.4 L586.8,123.9 L826.5,321 M87,120.8 L588.8,63.8 L832.3,250.8" fill="none" stroke="#d8d8d8" stroke-width="1"/>
<path d="M83,55.6 L590.9,2.2" fill="none" stroke="#6a6a6a" stroke-width="0.9"/>
<path d="M590.9,2.2 L838.3,178.6 L794.8,705.2 M590.9,2.2 L575.4,458 M112.3,535.8 L575.4,458 L794.8,705.2" fill="none" stroke="#505050" stroke-width="1.25"/>
<path d="M83,55.6 L112.3,535.8 L251.7,818.4 L794.8,705.2 M112.3,535.8 L122.2,534.2 M109,480.6 L118.9,479 M105.5,424.1 L115.6,422.5 M102,366.2 L112.2,364.8 M98.4,307.1 L108.7,305.6 M94.7,246.4 L105.1,245.1 M90.9,184.4 L101.5,183.1 M87,120.8 L97.7,119.6 M83,55.6 L93.9,54.5 M132.1,575.9 L137.2,575 M153.1,618.5 L163.5,616.6 M175.4,663.7 L180.7,662.7 M199.2,711.9 L210.2,709.8 M224.5,763.3 L230.2,762.2 M308,806.6 L306.2,803.3 M363.5,795.1 L359.8,788.4 M422.4,782.8 L420.4,779.5 M480.3,770.7 L476.2,764.3 M533.3,759.7 L531.2,756.5 M585.6,748.8 L581,742.5 M637.1,738 L634.7,735 M687.8,727.5 L683,721.4 M741.7,716.2 L739.2,713.2" fill="none" stroke="#000" stroke-width="2" stroke-linejoin="miter"/>
<g stroke-linejoin="round">
<polygon points="396.8,392.7 489,371 524.8,428.8" fill="url(#b1)" stroke="url(#b1)" stroke-width="1.2"/>
<polygon points="396.8,392.7 524.8,428.8 430.1,471.8" fill="url(#b2)" stroke="url(#b2)" stroke-width="1.2"/>
<polygon points="302.4,405.3 396.8,392.7 333.2,468.2" fill="url(#b3)" stroke="url(#b3)" stroke-width="1.2"/>
<polygon points="396.8,392.7 430.1,471.8 333.2,468.2" fill="url(#b4)" stroke="url(#b4)" stroke-width="1.2"/>
<polygon points="200.4,294.4 302.4,405.3 230.1,383.5" fill="url(#b5)" stroke="url(#b5)" stroke-width="1.2"/>
<polygon points="302.4,405.3 333.2,468.2 230.1,383.5" fill="url(#b6)" stroke="url(#b6)" stroke-width="1.2"/>
<polygon points="84.6,81.6 200.4,294.4 118.9,279.2" fill="url(#b7)" stroke="url(#b7)" stroke-width="1.2"/>
<polygon points="200.4,294.4 230.1,383.5 118.9,279.2" fill="url(#b8)" stroke="url(#b8)" stroke-width="1.2"/>
<polygon points="430.1,471.8 524.8,428.8 563.2,484.4" fill="url(#b9)" stroke="url(#b9)" stroke-width="1.2"/>
<polygon points="430.1,471.8 563.2,484.4 465.2,561.5" fill="url(#b10)" stroke="url(#b10)" stroke-width="1.2"/>
<polygon points="333.2,468.2 430.1,471.8 366.4,569.9" fill="url(#b11)" stroke="url(#b11)" stroke-width="1.2"/>
<polygon points="430.1,471.8 465.2,561.5 366.4,569.9" fill="url(#b12)" stroke="url(#b12)" stroke-width="1.2"/>
<polygon points="230.1,383.5 333.2,468.2 262.5,513.3" fill="url(#b13)" stroke="url(#b13)" stroke-width="1.2"/>
<polygon points="333.2,468.2 366.4,569.9 262.5,513.3" fill="url(#b14)" stroke="url(#b14)" stroke-width="1.2"/>
<polygon points="118.9,279.2 230.1,383.5 151.3,432.5" fill="url(#b15)" stroke="url(#b15)" stroke-width="1.2"/>
<polygon points="230.1,383.5 262.5,513.3 151.3,432.5" fill="url(#b16)" stroke="url(#b16)" stroke-width="1.2"/>
<polygon points="465.2,561.5 563.2,484.4 604.6,535.7" fill="url(#b17)" stroke="url(#b17)" stroke-width="1.2"/>
<polygon points="465.2,561.5 604.6,535.7 503.1,613.1" fill="url(#b18)" stroke="url(#b18)" stroke-width="1.2"/>
<polygon points="366.4,569.9 465.2,561.5 401.1,623.8" fill="url(#b19)" stroke="url(#b19)" stroke-width="1.2"/>
<polygon points="465.2,561.5 503.1,613.1 401.1,623.8" fill="url(#b20)" stroke="url(#b20)" stroke-width="1.2"/>
<polygon points="262.5,513.3 366.4,569.9 294.8,586.2" fill="url(#b21)" stroke="url(#b21)" stroke-width="1.2"/>
<polygon points="366.4,569.9 401.1,623.8 294.8,586.2" fill="url(#b22)" stroke="url(#b22)" stroke-width="1.2"/>
<polygon points="151.3,432.5 262.5,513.3 183.6,567.3" fill="url(#b23)" stroke="url(#b23)" stroke-width="1.2"/>
<polygon points="262.5,513.3 294.8,586.2 183.6,567.3" fill="url(#b24)" stroke="url(#b24)" stroke-width="1.2"/>
<polygon points="503.1,613.1 604.6,535.7 649.1,590.7" fill="url(#b25)" stroke="url(#b25)" stroke-width="1.2"/>
<polygon points="503.1,613.1 649.1,590.7 543.9,667.1" fill="url(#b26)" stroke="url(#b26)" stroke-width="1.2"/>
<polygon points="401.1,623.8 503.1,613.1 543.9,667.1" fill="url(#b27)" stroke="url(#b27)" stroke-width="1.2"/>
<polygon points="401.1,623.8 543.9,667.1 438.6,680.5" fill="url(#b28)" stroke="url(#b28)" stroke-width="1.2"/>
<polygon points="294.8,586.2 401.1,623.8 329.2,656.3" fill="url(#b29)" stroke="url(#b29)" stroke-width="1.2"/>
<polygon points="401.1,623.8 438.6,680.5 329.2,656.3" fill="url(#b30)" stroke="url(#b30)" stroke-width="1.2"/>
<polygon points="183.6,567.3 294.8,586.2 215.4,656.3" fill="url(#b31)" stroke="url(#b31)" stroke-width="1.2"/>
<polygon points="294.8,586.2 329.2,656.3 215.4,656.3" fill="url(#b32)" stroke="url(#b32)" stroke-width="1.2"/>
<polygon points="543.9,667.1 649.1,590.7 696.7,658.1" fill="url(#b33)" stroke="url(#b33)" stroke-width="1.2"/>
<polygon points="543.9,667.1 696.7,658.1 587.9,729" fill="url(#b34)" stroke="url(#b34)" stroke-width="1.2"/>
<polygon points="438.6,680.5 543.9,667.1 479.1,745.3" fill="url(#b35)" stroke="url(#b35)" stroke-width="1.2"/>
<polygon points="543.9,667.1 587.9,729 479.1,745.3" fill="url(#b36)" stroke="url(#b36)" stroke-width="1.2"/>
<polygon points="329.2,656.3 438.6,680.5 366.3,723.8" fill="url(#b37)" stroke="url(#b37)" stroke-width="1.2"/>
<polygon points="438.6,680.5 479.1,745.3 366.3,723.8" fill="url(#b38)" stroke="url(#b38)" stroke-width="1.2"/>
<polygon points="215.4,656.3 329.2,656.3 248.9,737.3" fill="url(#b39)" stroke="url(#b39)" stroke-width="1.2"/>
<polygon points="329.2,656.3 366.3,723.8 248.9,737.3" fill="url(#b40)" stroke="url(#b40)" stroke-width="1.2"/>
</g>
<path d="M84.6,81.6 L200.4,294.4 L302.4,405.3 L396.8,392.7 L489,371 M118.9,279.2 L230.1,383.5 L333.2,468.2 L430.1,471.8 L524.8,428.8 M151.3,432.5 L262.5,513.3 L366.4,569.9 L465.2,561.5 L563.2,484.4 M183.6,567.3 L294.8,586.2 L401.1,623.8 L503.1,613.1 L604.6,535.7 M215.4,656.3 L329.2,656.3 L438.6,680.5 L543.9,667.1 L649.1,590.7 M248.9,737.3 L366.3,723.8 L479.1,745.3 L587.9,729 L696.7,658.1 M84.6,81.6 L118.9,279.2 L151.3,432.5 L183.6,567.3 L215.4,656.3 L248.9,737.3 M200.4,294.4 L230.1,383.5 L262.5,513.3 L294.8,586.2 L329.2,656.3 L366.3,723.8 M302.4,405.3 L333.2,468.2 L366.4,569.9 L401.1,623.8 L438.6,680.5 L479.1,745.3 M396.8,392.7 L430.1,471.8 L465.2,561.5 L503.1,613.1 L543.9,667.1 L587.9,729 M489,371 L524.8,428.8 L563.2,484.4 L604.6,535.7 L649.1,590.7 L696.7,658.1" fill="none" stroke="#505050" stroke-opacity="0.33" stroke-width="0.9" stroke-linejoin="round"/>
<path d="M524.8,428.8 L524.8,428.8 M524.8,428.8 L405,412.1 M363.4,432.4 L320.2,441.6 M405,412.1 L363.4,432.4 M274.2,374.6 L270.9,395.8 M236.7,333.9 L229.4,381.3 M320.2,441.6 L324.6,461.1 M276.8,421.8 L270.9,395.8 M199.7,293 L198.7,294.1 M174.1,246.1 L141.7,283.5 M148.6,199.2 L112.3,241 M123,152.2 L101.2,177.4 M97.5,105.3 L90.2,113.8 M229.4,381.3 L229,382.5 M183.1,339.4 L198.7,294.1 M137.2,296.4 L141.7,283.5 M507,528.6 L444.3,508.2 M397.2,522.5 L356.3,538.9 M444.3,508.2 L397.2,522.5 M324.6,461.1 L302.5,487.8 M276.8,421.8 L248.3,456.3 M356.3,538.9 L342.9,557.1 M277.8,521.7 L302.5,487.8 M229,382.5 L222.9,388 M183.1,339.4 L140,379 M137.2,296.4 L124.9,307.7 M248.3,456.3 L220.3,482.6 M165.1,442.5 L222.9,388 M507,528.6 L527.7,549.9 M527.7,549.9 L549,578.1 M342.9,557.1 L344.1,574.9 M277.8,521.7 L279.9,552.7 M366,611.4 L344.1,574.9 M220.3,482.6 L175.5,533.4 M165.1,442.5 L156.1,452.6 M279.9,552.7 L266.3,581.3 M549,578.1 L572.5,602.5 M572.5,602.5 L592.7,631.6 M366,611.4 L370.3,637.8 M391.3,670.1 L370.3,637.8 M266.3,581.3 L212.9,649.3 M592.7,631.6 L631.4,661.9 M631.4,661.9 L652.5,686.9 M391.3,670.1 L402.9,701.9 M418.5,733.8 L402.9,701.9" fill="none" stroke="#2c3a34" stroke-opacity="0.66" stroke-width="1.1" stroke-linecap="round"/>
<g font-family="Liberation Serif,Times New Roman,serif" fill="#000">
<text transform="matrix(1.0610 -0.1791 0.0595 0.9378 101.4 544.3)" font-size="20" text-anchor="end" x="0" y="0" >0</text>
<text transform="matrix(1.0736 -0.1735 0.0608 0.9593 97.9 489.1)" font-size="20" text-anchor="end" x="0" y="0" >2</text>
<text transform="matrix(1.0865 -0.1675 0.0622 0.9815 94.3 432.7)" font-size="20" text-anchor="end" x="0" y="0" >4</text>
<text transform="matrix(1.0997 -0.1612 0.0637 1.0046 90.7 375)" font-size="20" text-anchor="end" x="0" y="0" >6</text>
<text transform="matrix(1.1132 -0.1546 0.0652 1.0284 86.9 315.9)" font-size="20" text-anchor="end" x="0" y="0" >8</text>
<text transform="matrix(1.1270 -0.1476 0.0668 1.0531 83.1 255.4)" font-size="20" text-anchor="end" x="0" y="0" >10</text>
<text transform="matrix(1.1412 -0.1403 0.0684 1.0787 79.1 193.4)" font-size="20" text-anchor="end" x="0" y="0" >12</text>
<text transform="matrix(1.1558 -0.1325 0.0701 1.1052 75.1 129.9)" font-size="20" text-anchor="end" x="0" y="0" >14</text>
<text transform="matrix(1.1707 -0.1243 0.0718 1.1328 71 64.9)" font-size="20" text-anchor="end" x="0" y="0" >16</text>
<text transform="matrix(1.1254 -0.2029 0.2765 0.5714 143.5 625.5)" font-size="20" text-anchor="end" x="0" y="0" >100</text>
<text transform="matrix(1.1920 -0.2310 0.3140 0.6488 189.2 719.9)" font-size="20" text-anchor="end" x="0" y="0" >200</text>
<text transform="matrix(1.2670 -0.2653 0.3597 0.7431 241.3 827.6)" font-size="20" text-anchor="end" x="0" y="0" >300</text>
<text transform="matrix(0.3632 0.7444 -1.2669 0.2657 248.4 828.9)" font-size="20" text-anchor="start" x="0" y="0" >0</text>
<text transform="matrix(0.4081 0.7227 -1.2294 0.2578 361 805.3)" font-size="20" text-anchor="start" x="0" y="0" >0.13</text>
<text transform="matrix(0.4533 0.7005 -1.1909 0.2498 478.6 780.6)" font-size="20" text-anchor="start" x="0" y="0" >0.27</text>
<text transform="matrix(0.4927 0.6807 -1.1567 0.2426 584.6 758.4)" font-size="20" text-anchor="start" x="0" y="0" >0.4</text>
<text transform="matrix(0.5296 0.6618 -1.1240 0.2357 687.5 736.8)" font-size="20" text-anchor="start" x="0" y="0" >0.53</text>
<text transform="matrix(0.5668 0.6423 -1.0903 0.2287 795 714.3)" font-size="20" text-anchor="start" x="0" y="0" >0.67</text>
<text transform="matrix(1.5086 -0.3273 0.6305 0.9171 566 814.4)" font-size="20" text-anchor="middle" x="0" y="0" >Molar ratio of β-CD/PDMS</text>
<text transform="matrix(0.3292 0.7563 -1.4413 0.2690 98.2 682.4)" font-size="20" text-anchor="middle" x="0" y="0" >Stirring speed (r<tspan fill="#ddd">/</tspan>min)</text>
<text transform="matrix(0.0986 1.3175 -1.4361 0.1975 28.7 313.2)" font-size="20" text-anchor="middle" x="0" y="0" >BSA adsoption (μg/cm<tspan font-size="12" dy="-8">2</tspan><tspan dy="8">)</tspan></text>
</g>
<text x="-1.6" y="82.8" font-size="57" font-family="Liberation Serif,Times New Roman,serif">b</text>
<rect x="874.6" y="79.3" width="50.3" height="506.5" fill="url(#cb)"/>
<rect x="874.6" y="585.8" width="50.3" height="5.4" fill="#000"/>
<rect x="874.6" y="74.2" width="50.3" height="516.6" fill="none" stroke="#2a2a2a" stroke-width="1.5"/>
<path d="M925.4,585.8 h12.6 M925.4,535.1 h12.6 M925.4,484.5 h12.6 M925.4,433.8 h12.6 M925.4,383.2 h12.6 M925.4,332.6 h12.6 M925.4,281.9 h12.6 M925.4,231.2 h12.6 M925.4,180.6 h12.6 M925.4,130 h12.6 M925.4,79.3 h12.6" stroke="#2a2a2a" stroke-width="1.6"/>
<g font-family="Liberation Serif,Times New Roman,serif" font-size="21.5" fill="#000">
<text x="945.3" y="593.4">0.000</text>
<text x="945.3" y="542.8">1.600</text>
<text x="945.3" y="492.1">3.200</text>
<text x="945.3" y="441.4">4.800</text>
<text x="945.3" y="390.8">6.400</text>
<text x="945.3" y="340.2">8.000</text>
<text x="945.3" y="289.5">9.600</text>
<text x="945.3" y="238.8">11.20</text>
<text x="945.3" y="188.2">12.80</text>
<text x="945.3" y="137.6">14.40</text>
<text x="945.3" y="86.9">16.00</text>
</g>
</g>
<g transform="translate(0,844.2)">
<path d="M206.8,519.9 L187.1,44.7 M206.8,519.9 L363.5,795.1 M305.9,503.3 L296,33.2 M305.9,503.3 L480.3,770.7 M395.7,488.2 L394.5,22.9 M395.7,488.2 L585.6,748.8 M483.3,473.5 L490.4,12.8 M483.3,473.5 L687.8,727.5 M640.2,531 L662.9,53.6 M153.1,618.5 L640.2,531 M712.8,612.8 L744.7,111.9 M199.2,711.9 L712.8,612.8 M109,480.6 L577.2,405.3 L799.7,645.2 M105.5,424.1 L579,351.5 L804.8,583.8 M102,366.2 L580.9,296.5 L810,520.7 M98.4,307.1 L582.8,240.2 L815.4,455.9 M94.7,246.4 L584.8,182.7 L820.9,389.4 M90.9,184.4 L586.8,123.9 L826.5,321 M87,120.8 L588.8,63.8 L832.3,250.8" fill="none" stroke="#d8d8d8" stroke-width="1"/>
<path d="M83,55.6 L590.9,2.2" fill="none" stroke="#6a6a6a" stroke-width="0.9"/>
<path d="M590.9,2.2 L838.3,178.6 L794.8,705.2 M590.9,2.2 L575.4,458 M112.3,535.8 L575.4,458 L794.8,705.2" fill="none" stroke="#505050" stroke-width="1.25"/>
<path d="M83,55.6 L112.3,535.8 L251.7,818.4 L794.8,705.2 M112.3,535.8 L122.2,534.2 M109,480.6 L118.9,479 M105.5,424.1 L115.6,422.5 M102,366.2 L112.2,364.8 M98.4,307.1 L108.7,305.6 M94.7,246.4 L105.1,245.1 M90.9,184.4 L101.5,183.1 M87,120.8 L97.7,119.6 M83,55.6 L93.9,54.5 M132.1,575.9 L137.2,575 M153.1,618.5 L163.5,616.6 M175.4,663.7 L180.7,662.7 M199.2,711.9 L210.2,709.8 M224.5,763.3 L230.2,762.2 M308,806.6 L306.2,803.3 M363.5,795.1 L359.8,788.4 M422.4,782.8 L420.4,779.5 M480.3,770.7 L476.2,764.3 M533.3,759.7 L531.2,756.5 M585.6,748.8 L581,742.5 M637.1,738 L634.7,735 M687.8,727.5 L683,721.4 M741.7,716.2 L739.2,713.2" fill="none" stroke="#000" stroke-width="2" stroke-linejoin="miter"/>
<g stroke-linejoin="round">
<polygon points="489.8,321.4 580.7,302.5 619,367.3" fill="url(#c1)" stroke="url(#c1)" stroke-width="1.2"/>
<polygon points="489.8,321.4 619,367.3 525.6,394.3" fill="url(#c2)" stroke="url(#c2)" stroke-width="1.2"/>
<polygon points="396.8,396 489.8,321.4 525.6,394.3" fill="url(#c3)" stroke="url(#c3)" stroke-width="1.2"/>
<polygon points="396.8,396 525.6,394.3 430.1,462.6" fill="url(#c4)" stroke="url(#c4)" stroke-width="1.2"/>
<polygon points="302.7,417.3 396.8,396 333.2,466.1" fill="url(#c5)" stroke="url(#c5)" stroke-width="1.2"/>
<polygon points="396.8,396 430.1,462.6 333.2,466.1" fill="url(#c6)" stroke="url(#c6)" stroke-width="1.2"/>
<polygon points="203.8,376.9 302.7,417.3 232.4,447.3" fill="url(#c7)" stroke="url(#c7)" stroke-width="1.2"/>
<polygon points="302.7,417.3 333.2,466.1 232.4,447.3" fill="url(#c8)" stroke="url(#c8)" stroke-width="1.2"/>
<polygon points="83.9,69.3 203.8,376.9 118.4,270.9" fill="url(#c9)" stroke="url(#c9)" stroke-width="1.2"/>
<polygon points="203.8,376.9 232.4,447.3 118.4,270.9" fill="url(#c10)" stroke="url(#c10)" stroke-width="1.2"/>
<polygon points="525.6,394.3 619,367.3 660.8,413.3" fill="url(#c11)" stroke="url(#c11)" stroke-width="1.2"/>
<polygon points="525.6,394.3 660.8,413.3 564.2,452.7" fill="url(#c12)" stroke="url(#c12)" stroke-width="1.2"/>
<polygon points="430.1,462.6 525.6,394.3 564.2,452.7" fill="url(#c13)" stroke="url(#c13)" stroke-width="1.2"/>
<polygon points="430.1,462.6 564.2,452.7 465.3,547" fill="url(#c14)" stroke="url(#c14)" stroke-width="1.2"/>
<polygon points="333.2,466.1 430.1,462.6 465.3,547" fill="url(#c15)" stroke="url(#c15)" stroke-width="1.2"/>
<polygon points="333.2,466.1 465.3,547 366.4,578.5" fill="url(#c16)" stroke="url(#c16)" stroke-width="1.2"/>
<polygon points="232.4,447.3 333.2,466.1 263.3,538.9" fill="url(#c17)" stroke="url(#c17)" stroke-width="1.2"/>
<polygon points="333.2,466.1 366.4,578.5 263.3,538.9" fill="url(#c18)" stroke="url(#c18)" stroke-width="1.2"/>
<polygon points="118.4,270.9 232.4,447.3 151,427.5" fill="url(#c19)" stroke="url(#c19)" stroke-width="1.2"/>
<polygon points="232.4,447.3 263.3,538.9 151,427.5" fill="url(#c20)" stroke="url(#c20)" stroke-width="1.2"/>
<polygon points="564.2,452.7 660.8,413.3 705.1,471.1" fill="url(#c21)" stroke="url(#c21)" stroke-width="1.2"/>
<polygon points="564.2,452.7 705.1,471.1 605.6,509.8" fill="url(#c22)" stroke="url(#c22)" stroke-width="1.2"/>
<polygon points="465.3,547 564.2,452.7 605.6,509.8" fill="url(#c23)" stroke="url(#c23)" stroke-width="1.2"/>
<polygon points="465.3,547 605.6,509.8 503.3,601.1" fill="url(#c24)" stroke="url(#c24)" stroke-width="1.2"/>
<polygon points="366.4,578.5 465.3,547 503.3,601.1" fill="url(#c25)" stroke="url(#c25)" stroke-width="1.2"/>
<polygon points="366.4,578.5 503.3,601.1 401.1,633.4" fill="url(#c26)" stroke="url(#c26)" stroke-width="1.2"/>
<polygon points="263.3,538.9 366.4,578.5 295.2,602.9" fill="url(#c27)" stroke="url(#c27)" stroke-width="1.2"/>
<polygon points="366.4,578.5 401.1,633.4 295.2,602.9" fill="url(#c28)" stroke="url(#c28)" stroke-width="1.2"/>
<polygon points="151,427.5 263.3,538.9 183.6,567" fill="url(#c29)" stroke="url(#c29)" stroke-width="1.2"/>
<polygon points="263.3,538.9 295.2,602.9 183.6,567" fill="url(#c30)" stroke="url(#c30)" stroke-width="1.2"/>
<polygon points="605.6,509.8 705.1,471.1 753,526.3" fill="url(#c31)" stroke="url(#c31)" stroke-width="1.2"/>
<polygon points="605.6,509.8 753,526.3 650.3,567.5" fill="url(#c32)" stroke="url(#c32)" stroke-width="1.2"/>
<polygon points="503.3,601.1 605.6,509.8 650.3,567.5" fill="url(#c33)" stroke="url(#c33)" stroke-width="1.2"/>
<polygon points="503.3,601.1 650.3,567.5 544.2,655.7" fill="url(#c34)" stroke="url(#c34)" stroke-width="1.2"/>
<polygon points="401.1,633.4 503.3,601.1 438.6,688.4" fill="url(#c35)" stroke="url(#c35)" stroke-width="1.2"/>
<polygon points="503.3,601.1 544.2,655.7 438.6,688.4" fill="url(#c36)" stroke="url(#c36)" stroke-width="1.2"/>
<polygon points="295.2,602.9 401.1,633.4 329.4,667.7" fill="url(#c37)" stroke="url(#c37)" stroke-width="1.2"/>
<polygon points="401.1,633.4 438.6,688.4 329.4,667.7" fill="url(#c38)" stroke="url(#c38)" stroke-width="1.2"/>
<polygon points="183.6,567 295.2,602.9 215.3,654.3" fill="url(#c39)" stroke="url(#c39)" stroke-width="1.2"/>
<polygon points="295.2,602.9 329.4,667.7 215.3,654.3" fill="url(#c40)" stroke="url(#c40)" stroke-width="1.2"/>
<polygon points="650.3,567.5 753,526.3 804.8,583.8" fill="url(#c41)" stroke="url(#c41)" stroke-width="1.2"/>
<polygon points="650.3,567.5 804.8,583.8 697.9,637.8" fill="url(#c42)" stroke="url(#c42)" stroke-width="1.2"/>
<polygon points="544.2,655.7 650.3,567.5 697.9,637.8" fill="url(#c43)" stroke="url(#c43)" stroke-width="1.2"/>
<polygon points="544.2,655.7 697.9,637.8 588.5,713.4" fill="url(#c44)" stroke="url(#c44)" stroke-width="1.2"/>
<polygon points="438.6,688.4 544.2,655.7 588.5,713.4" fill="url(#c45)" stroke="url(#c45)" stroke-width="1.2"/>
<polygon points="438.6,688.4 588.5,713.4 479,751.2" fill="url(#c46)" stroke="url(#c46)" stroke-width="1.2"/>
<polygon points="329.4,667.7 438.6,688.4 366.4,735.2" fill="url(#c47)" stroke="url(#c47)" stroke-width="1.2"/>
<polygon points="438.6,688.4 479,751.2 366.4,735.2" fill="url(#c48)" stroke="url(#c48)" stroke-width="1.2"/>
<polygon points="215.3,654.3 329.4,667.7 248.8,734.2" fill="url(#c49)" stroke="url(#c49)" stroke-width="1.2"/>
<polygon points="329.4,667.7 366.4,735.2 248.8,734.2" fill="url(#c50)" stroke="url(#c50)" stroke-width="1.2"/>
</g>
<path d="M83.9,69.3 L203.8,376.9 L302.7,417.3 L396.8,396 L489.8,321.4 L580.7,302.5 M118.4,270.9 L232.4,447.3 L333.2,466.1 L430.1,462.6 L525.6,394.3 L619,367.3 M151,427.5 L263.3,538.9 L366.4,578.5 L465.3,547 L564.2,452.7 L660.8,413.3 M183.6,567 L295.2,602.9 L401.1,633.4 L503.3,601.1 L605.6,509.8 L705.1,471.1 M215.3,654.3 L329.4,667.7 L438.6,688.4 L544.2,655.7 L650.3,567.5 L753,526.3 M248.8,734.2 L366.4,735.2 L479,751.2 L588.5,713.4 L697.9,637.8 L804.8,583.8 M83.9,69.3 L118.4,270.9 L151,427.5 L183.6,567 L215.3,654.3 L248.8,734.2 M203.8,376.9 L232.4,447.3 L263.3,538.9 L295.2,602.9 L329.4,667.7 L366.4,735.2 M302.7,417.3 L333.2,466.1 L366.4,578.5 L401.1,633.4 L438.6,688.4 L479,751.2 M396.8,396 L430.1,462.6 L465.3,547 L503.3,601.1 L544.2,655.7 L588.5,713.4 M489.8,321.4 L525.6,394.3 L564.2,452.7 L605.6,509.8 L650.3,567.5 L697.9,637.8 M580.7,302.5 L619,367.3 L660.8,413.3 L705.1,471.1 L753,526.3 L804.8,583.8" fill="none" stroke="#505050" stroke-opacity="0.33" stroke-width="0.9" stroke-linejoin="round"/>
<path d="M605.4,371.2 L514,370.7 M456.4,348.2 L514,370.7 M463.5,438.8 L404.6,411.6 M318.4,413.8 L366.3,429.7 M404.6,411.6 L366.3,429.7 M300.7,416.5 L300,418.5 M219.9,383.5 L213.7,401.4 M315.3,462.8 L300,418.5 M189.1,339.3 L183.5,351.7 M170.8,292.2 L158.1,320.2 M152.5,245.2 L132.8,288.7 M134.1,198.2 L113.7,243.2 M115.8,151.2 L102.8,179.8 M97.4,104.1 L91.9,116.3 M213.7,401.4 L221.5,430.5 M192.6,385.7 L183.5,351.7 M163.7,340.9 L158.1,320.2 M134.8,296.2 L132.8,288.7 M605.4,371.2 L639.8,390.2 M463.5,438.8 L494.1,457.9 M479.6,533.4 L455,522.3 M494.1,457.9 L538,477.7 M455,522.3 L436.2,529.2 M436.2,529.2 L353.5,534.8 M315.3,462.8 L253.1,508.8 M353.5,534.8 L320.9,561 M221.5,430.5 L214.7,443 M192.6,385.7 L167.5,431.5 M163.7,340.9 L141.4,381.5 M134.8,296.2 L126.7,310.8 M253.1,508.8 L250.4,526.1 M208.1,484.1 L214.7,443 M165.8,442.1 L167.5,431.5 M479.6,533.4 L488.4,540.9 M538,477.7 L582.6,515.9 M488.4,540.9 L524,582.6 M582.6,515.9 L589.6,524.1 M320.9,561 L327.4,591.8 M340.9,616 L327.4,591.8 M250.4,526.1 L236,548.5 M208.1,484.1 L176,534.2 M165.8,442.1 L157.5,455.1 M241.4,585.6 L236,548.5 M524,582.6 L535.7,593.7 M589.6,524.1 L638.5,570.2 M535.7,593.7 L567.3,636.5 M638.5,570.2 L641.7,574.6 M340.9,616 L353.1,656.4 M366.8,674.8 L353.1,656.4 M241.4,585.6 L214.8,652.8 M726.2,623.5 L668.8,594.9 M567.3,636.5 L586.4,650.8 M641.7,574.6 L668.8,594.9 M586.4,650.8 L616.4,694.2 M366.8,674.8 L384.2,723.7 M393.1,739 L384.2,723.7" fill="none" stroke="#2c3a34" stroke-opacity="0.66" stroke-width="1.1" stroke-linecap="round"/>
<g font-family="Liberation Serif,Times New Roman,serif" fill="#000">
<text transform="matrix(1.0610 -0.1791 0.0595 0.9378 101.4 544.3)" font-size="20" text-anchor="end" x="0" y="0" >0</text>
<text transform="matrix(1.0736 -0.1735 0.0608 0.9593 97.9 489.1)" font-size="20" text-anchor="end" x="0" y="0" >2</text>
<text transform="matrix(1.0865 -0.1675 0.0622 0.9815 94.3 432.7)" font-size="20" text-anchor="end" x="0" y="0" >4</text>
<text transform="matrix(1.0997 -0.1612 0.0637 1.0046 90.7 375)" font-size="20" text-anchor="end" x="0" y="0" >6</text>
<text transform="matrix(1.1132 -0.1546 0.0652 1.0284 86.9 315.9)" font-size="20" text-anchor="end" x="0" y="0" >8</text>
<text transform="matrix(1.1270 -0.1476 0.0668 1.0531 83.1 255.4)" font-size="20" text-anchor="end" x="0" y="0" >10</text>
<text transform="matrix(1.1412 -0.1403 0.0684 1.0787 79.1 193.4)" font-size="20" text-anchor="end" x="0" y="0" >12</text>
<text transform="matrix(1.1558 -0.1325 0.0701 1.1052 75.1 129.9)" font-size="20" text-anchor="end" x="0" y="0" >14</text>
<text transform="matrix(1.1707 -0.1243 0.0718 1.1328 71 64.9)" font-size="20" text-anchor="end" x="0" y="0" >16</text>
<text transform="matrix(1.1254 -0.2029 0.2765 0.5714 143.5 625.5)" font-size="20" text-anchor="end" x="0" y="0" >100</text>
<text transform="matrix(1.1920 -0.2310 0.3140 0.6488 189.2 719.9)" font-size="20" text-anchor="end" x="0" y="0" >200</text>
<text transform="matrix(1.2670 -0.2653 0.3597 0.7431 241.3 827.6)" font-size="20" text-anchor="end" x="0" y="0" >300</text>
<text transform="matrix(0.3632 0.7444 -1.2669 0.2657 248.4 828.9)" font-size="20" text-anchor="start" x="0" y="0" >0</text>
<text transform="matrix(0.4081 0.7227 -1.2294 0.2578 361 805.3)" font-size="20" text-anchor="start" x="0" y="0" >0.13</text>
<text transform="matrix(0.4533 0.7005 -1.1909 0.2498 478.6 780.6)" font-size="20" text-anchor="start" x="0" y="0" >0.27</text>
<text transform="matrix(0.4927 0.6807 -1.1567 0.2426 584.6 758.4)" font-size="20" text-anchor="start" x="0" y="0" >0.4</text>
<text transform="matrix(0.5296 0.6618 -1.1240 0.2357 687.5 736.8)" font-size="20" text-anchor="start" x="0" y="0" >0.53</text>
<text transform="matrix(0.5668 0.6423 -1.0903 0.2287 795 714.3)" font-size="20" text-anchor="start" x="0" y="0" >0.67</text>
<text transform="matrix(1.5086 -0.3273 0.6305 0.9171 566 814.4)" font-size="20" text-anchor="middle" x="0" y="0" >Molar ratio of γ-CD/PDMS</text>
<text transform="matrix(0.3292 0.7563 -1.4413 0.2690 98.2 682.4)" font-size="20" text-anchor="middle" x="0" y="0" >Stirring speed (r<tspan fill="#ddd">/</tspan>min)</text>
<text transform="matrix(0.0986 1.3175 -1.4361 0.1975 28.7 313.2)" font-size="20" text-anchor="middle" x="0" y="0" >BSA adsoption (μg/cm<tspan font-size="12" dy="-8">2</tspan><tspan dy="8">)</tspan></text>
</g>
<text x="-1.6" y="82.8" font-size="57" font-family="Liberation Serif,Times New Roman,serif">c</text>
<rect x="874.6" y="79.3" width="50.3" height="506.5" fill="url(#cb)"/>
<rect x="874.6" y="585.8" width="50.3" height="5.4" fill="#000"/>
<rect x="874.6" y="74.2" width="50.3" height="516.6" fill="none" stroke="#2a2a2a" stroke-width="1.5"/>
<path d="M925.4,585.8 h12.6 M925.4,535.1 h12.6 M925.4,484.5 h12.6 M925.4,433.8 h12.6 M925.4,383.2 h12.6 M925.4,332.6 h12.6 M925.4,281.9 h12.6 M925.4,231.2 h12.6 M925.4,180.6 h12.6 M925.4,130 h12.6 M925.4,79.3 h12.6" stroke="#2a2a2a" stroke-width="1.6"/>
<g font-family="Liberation Serif,Times New Roman,serif" font-size="21.5" fill="#000">
<text x="945.3" y="593.4">0.000</text>
<text x="945.3" y="542.8">1.600</text>
<text x="945.3" y="492.1">3.200</text>
<text x="945.3" y="441.4">4.800</text>
<text x="945.3" y="390.8">6.400</text>
<text x="945.3" y="340.2">8.000</text>
<text x="945.3" y="289.5">9.600</text>
<text x="945.3" y="238.8">11.20</text>
<text x="945.3" y="188.2">12.80</text>
<text x="945.3" y="137.6">14.40</text>
<text x="945.3" y="86.9">16.00</text>
</g>
</g>
<g transform="translate(1007.5,844.3)">
<path d="M206.8,519.9 L187.1,44.7 M206.8,519.9 L363.5,795.1 M305.9,503.3 L296,33.2 M305.9,503.3 L480.3,770.7 M395.7,488.2 L394.5,22.9 M395.7,488.2 L585.6,748.8 M483.3,473.5 L490.4,12.8 M483.3,473.5 L687.8,727.5 M640.2,531 L662.9,53.6 M153.1,618.5 L640.2,531 M712.8,612.8 L744.7,111.9 M199.2,711.9 L712.8,612.8 M109,480.6 L577.2,405.3 L799.7,645.2 M105.5,424.1 L579,351.5 L804.8,583.8 M102,366.2 L580.9,296.5 L810,520.7 M98.4,307.1 L582.8,240.2 L815.4,455.9 M94.7,246.4 L584.8,182.7 L820.9,389.4 M90.9,184.4 L586.8,123.9 L826.5,321 M87,120.8 L588.8,63.8 L832.3,250.8" fill="none" stroke="#d8d8d8" stroke-width="1"/>
<path d="M83,55.6 L590.9,2.2" fill="none" stroke="#6a6a6a" stroke-width="0.9"/>
<path d="M590.9,2.2 L838.3,178.6 L794.8,705.2 M590.9,2.2 L575.4,458 M112.3,535.8 L575.4,458 L794.8,705.2" fill="none" stroke="#505050" stroke-width="1.25"/>
<path d="M83,55.6 L112.3,535.8 L251.7,818.4 L794.8,705.2 M112.3,535.8 L122.2,534.2 M109,480.6 L118.9,479 M105.5,424.1 L115.6,422.5 M102,366.2 L112.2,364.8 M98.4,307.1 L108.7,305.6 M94.7,246.4 L105.1,245.1 M90.9,184.4 L101.5,183.1 M87,120.8 L97.7,119.6 M83,55.6 L93.9,54.5 M132.1,575.9 L137.2,575 M153.1,618.5 L163.5,616.6 M175.4,663.7 L180.7,662.7 M199.2,711.9 L210.2,709.8 M224.5,763.3 L230.2,762.2 M308,806.6 L306.2,803.3 M363.5,795.1 L359.8,788.4 M422.4,782.8 L420.4,779.5 M480.3,770.7 L476.2,764.3 M533.3,759.7 L531.2,756.5 M585.6,748.8 L581,742.5 M637.1,738 L634.7,735 M687.8,727.5 L683,721.4 M741.7,716.2 L739.2,713.2" fill="none" stroke="#000" stroke-width="2" stroke-linejoin="miter"/>
<g stroke-linejoin="round">
<polygon points="488.8,383.5 579.1,351 617.9,394.2" fill="url(#d1)" stroke="url(#d1)" stroke-width="1.2"/>
<polygon points="488.8,383.5 617.9,394.2 524.6,437.3" fill="url(#d2)" stroke="url(#d2)" stroke-width="1.2"/>
<polygon points="396.9,432.8 488.8,383.5 524.6,437.3" fill="url(#d3)" stroke="url(#d3)" stroke-width="1.2"/>
<polygon points="396.9,432.8 524.6,437.3 430,491.6" fill="url(#d4)" stroke="url(#d4)" stroke-width="1.2"/>
<polygon points="303.6,460.1 396.9,432.8 430,491.6" fill="url(#d5)" stroke="url(#d5)" stroke-width="1.2"/>
<polygon points="303.6,460.1 430,491.6 333.8,507.4" fill="url(#d6)" stroke="url(#d6)" stroke-width="1.2"/>
<polygon points="205.1,407.4 303.6,460.1 233.1,468.8" fill="url(#d7)" stroke="url(#d7)" stroke-width="1.2"/>
<polygon points="303.6,460.1 333.8,507.4 233.1,468.8" fill="url(#d8)" stroke="url(#d8)" stroke-width="1.2"/>
<polygon points="84.6,81.1 205.1,407.4 118.9,279" fill="url(#d9)" stroke="url(#d9)" stroke-width="1.2"/>
<polygon points="205.1,407.4 233.1,468.8 118.9,279" fill="url(#d10)" stroke="url(#d10)" stroke-width="1.2"/>
<polygon points="524.6,437.3 617.9,394.2 659,447.3" fill="url(#d11)" stroke="url(#d11)" stroke-width="1.2"/>
<polygon points="524.6,437.3 659,447.3 563,490.4" fill="url(#d12)" stroke="url(#d12)" stroke-width="1.2"/>
<polygon points="430,491.6 524.6,437.3 563,490.4" fill="url(#d13)" stroke="url(#d13)" stroke-width="1.2"/>
<polygon points="430,491.6 563,490.4 465.2,560.4" fill="url(#d14)" stroke="url(#d14)" stroke-width="1.2"/>
<polygon points="333.8,507.4 430,491.6 465.2,560.4" fill="url(#d15)" stroke="url(#d15)" stroke-width="1.2"/>
<polygon points="333.8,507.4 465.2,560.4 366.5,588.3" fill="url(#d16)" stroke="url(#d16)" stroke-width="1.2"/>
<polygon points="233.1,468.8 333.8,507.4 263.6,551.5" fill="url(#d17)" stroke="url(#d17)" stroke-width="1.2"/>
<polygon points="333.8,507.4 366.5,588.3 263.6,551.5" fill="url(#d18)" stroke="url(#d18)" stroke-width="1.2"/>
<polygon points="118.9,279 233.1,468.8 151.2,432" fill="url(#d19)" stroke="url(#d19)" stroke-width="1.2"/>
<polygon points="233.1,468.8 263.6,551.5 151.2,432" fill="url(#d20)" stroke="url(#d20)" stroke-width="1.2"/>
<polygon points="563,490.4 659,447.3 703.2,502.1" fill="url(#d21)" stroke="url(#d21)" stroke-width="1.2"/>
<polygon points="563,490.4 703.2,502.1 604.3,543.2" fill="url(#d22)" stroke="url(#d22)" stroke-width="1.2"/>
<polygon points="465.2,560.4 563,490.4 604.3,543.2" fill="url(#d23)" stroke="url(#d23)" stroke-width="1.2"/>
<polygon points="465.2,560.4 604.3,543.2 503.1,612.7" fill="url(#d24)" stroke="url(#d24)" stroke-width="1.2"/>
<polygon points="366.5,588.3 465.2,560.4 503.1,612.7" fill="url(#d25)" stroke="url(#d25)" stroke-width="1.2"/>
<polygon points="366.5,588.3 503.1,612.7 401.2,642.5" fill="url(#d26)" stroke="url(#d26)" stroke-width="1.2"/>
<polygon points="263.6,551.5 366.5,588.3 295.3,610.1" fill="url(#d27)" stroke="url(#d27)" stroke-width="1.2"/>
<polygon points="366.5,588.3 401.2,642.5 295.3,610.1" fill="url(#d28)" stroke="url(#d28)" stroke-width="1.2"/>
<polygon points="151.2,432 263.6,551.5 183.6,566.8" fill="url(#d29)" stroke="url(#d29)" stroke-width="1.2"/>
<polygon points="263.6,551.5 295.3,610.1 183.6,566.8" fill="url(#d30)" stroke="url(#d30)" stroke-width="1.2"/>
<polygon points="604.3,543.2 703.2,502.1 750.8,556.7" fill="url(#d31)" stroke="url(#d31)" stroke-width="1.2"/>
<polygon points="604.3,543.2 750.8,556.7 648.8,597.2" fill="url(#d32)" stroke="url(#d32)" stroke-width="1.2"/>
<polygon points="503.1,612.7 604.3,543.2 648.8,597.2" fill="url(#d33)" stroke="url(#d33)" stroke-width="1.2"/>
<polygon points="503.1,612.7 648.8,597.2 543.8,669.2" fill="url(#d34)" stroke="url(#d34)" stroke-width="1.2"/>
<polygon points="401.2,642.5 503.1,612.7 543.8,669.2" fill="url(#d35)" stroke="url(#d35)" stroke-width="1.2"/>
<polygon points="401.2,642.5 543.8,669.2 438.5,699.2" fill="url(#d36)" stroke="url(#d36)" stroke-width="1.2"/>
<polygon points="295.3,610.1 401.2,642.5 329.5,673.9" fill="url(#d37)" stroke="url(#d37)" stroke-width="1.2"/>
<polygon points="401.2,642.5 438.5,699.2 329.5,673.9" fill="url(#d38)" stroke="url(#d38)" stroke-width="1.2"/>
<polygon points="183.6,566.8 295.3,610.1 215.4,656.1" fill="url(#d39)" stroke="url(#d39)" stroke-width="1.2"/>
<polygon points="295.3,610.1 329.5,673.9 215.4,656.1" fill="url(#d40)" stroke="url(#d40)" stroke-width="1.2"/>
<polygon points="648.8,597.2 750.8,556.7 802.4,612.5" fill="url(#d41)" stroke="url(#d41)" stroke-width="1.2"/>
<polygon points="648.8,597.2 802.4,612.5 696.4,662.8" fill="url(#d42)" stroke="url(#d42)" stroke-width="1.2"/>
<polygon points="543.8,669.2 648.8,597.2 696.4,662.8" fill="url(#d43)" stroke="url(#d43)" stroke-width="1.2"/>
<polygon points="543.8,669.2 696.4,662.8 588,727.6" fill="url(#d44)" stroke="url(#d44)" stroke-width="1.2"/>
<polygon points="438.5,699.2 543.8,669.2 588,727.6" fill="url(#d45)" stroke="url(#d45)" stroke-width="1.2"/>
<polygon points="438.5,699.2 588,727.6 478.8,762" fill="url(#d46)" stroke="url(#d46)" stroke-width="1.2"/>
<polygon points="329.5,673.9 438.5,699.2 366.4,739.5" fill="url(#d47)" stroke="url(#d47)" stroke-width="1.2"/>
<polygon points="438.5,699.2 478.8,762 366.4,739.5" fill="url(#d48)" stroke="url(#d48)" stroke-width="1.2"/>
<polygon points="215.4,656.1 329.5,673.9 248.9,736.8" fill="url(#d49)" stroke="url(#d49)" stroke-width="1.2"/>
<polygon points="329.5,673.9 366.4,739.5 248.9,736.8" fill="url(#d50)" stroke="url(#d50)" stroke-width="1.2"/>
</g>
<path d="M84.6,81.1 L205.1,407.4 L303.6,460.1 L396.9,432.8 L488.8,383.5 L579.1,351 M118.9,279 L233.1,468.8 L333.8,507.4 L430,491.6 L524.6,437.3 L617.9,394.2 M151.2,432 L263.6,551.5 L366.5,588.3 L465.2,560.4 L563,490.4 L659,447.3 M183.6,566.8 L295.3,610.1 L401.2,642.5 L503.1,612.7 L604.3,543.2 L703.2,502.1 M215.4,656.1 L329.5,673.9 L438.5,699.2 L543.8,669.2 L648.8,597.2 L750.8,556.7 M248.9,736.8 L366.4,739.5 L478.8,762 L588,727.6 L696.4,662.8 L802.4,612.5 M84.6,81.1 L118.9,279 L151.2,432 L183.6,566.8 L215.4,656.1 L248.9,736.8 M205.1,407.4 L233.1,468.8 L263.6,551.5 L295.3,610.1 L329.5,673.9 L366.4,739.5 M303.6,460.1 L333.8,507.4 L366.5,588.3 L401.2,642.5 L438.5,699.2 L478.8,762 M396.9,432.8 L430,491.6 L465.2,560.4 L503.1,612.7 L543.8,669.2 L588,727.6 M488.8,383.5 L524.6,437.3 L563,490.4 L604.3,543.2 L648.8,597.2 L696.4,662.8 M579.1,351 L617.9,394.2 L659,447.3 L703.2,502.1 L750.8,556.7 L802.4,612.5" fill="none" stroke="#505050" stroke-opacity="0.33" stroke-width="0.9" stroke-linejoin="round"/>
<path d="M552.8,424.3 L499.8,400.1 M479,388.7 L499.8,400.1 M436.5,487.9 L424.2,481.4 M424.2,481.4 L309.7,461.7 M309.7,461.7 L305.3,462.9 M239.3,425.7 L242.9,467.6 M305.3,462.9 L329.7,505.8 M246.5,473.9 L242.9,467.6 M197,385.5 L194.6,391.9 M179.7,338.8 L172.4,358.7 M162.5,292 L150.1,325.6 M145.2,245.3 L127.9,292.4 M128,198.6 L112.3,241.1 M110.7,151.9 L101.3,177.5 M93.5,105.2 L90.3,113.9 M210.5,431.3 L194.6,391.9 M183.6,386.5 L172.4,358.7 M156.7,341.8 L150.1,325.6 M129.8,297.1 L127.9,292.4 M552.8,424.3 L586.9,441.9 M586.9,441.9 L623.2,463.3 M436.5,487.9 L441.6,491.5 M441.6,491.5 L510.3,528 M329.7,505.8 L326.4,512.1 M246.5,473.9 L239.8,486.8 M300.4,564.7 L326.4,512.1 M210.5,431.3 L200.4,454.1 M183.6,386.5 L161.4,436.5 M156.7,341.8 L140.1,379.2 M129.8,297.1 L125,307.9 M239.8,486.8 L240.8,527.3 M201.2,485.1 L200.4,454.1 M161.5,442.9 L161.4,436.5 M623.2,463.3 L689.5,501 M689.5,501 L695.4,505.4 M510.3,528 L535.1,551.7 M535.1,551.7 L555.1,577 M300.4,564.7 L315.6,603.9 M324.7,619 L315.6,603.9 M240.8,527.3 L224.1,559.1 M201.2,485.1 L175.7,533.7 M161.5,442.9 L156.3,452.9 M234.9,586.6 L224.1,559.1 M695.4,505.4 L724.3,526.3 M555.1,577 L580.4,604.4 M580.4,604.4 L600.9,630.1 M324.7,619 L342.1,668.3 M348.8,678.3 L342.1,668.3 M234.9,586.6 L213.1,649.7 M600.9,630.1 L643.6,665 M643.6,665 L657.8,685.8 M348.8,678.3 L374.5,735 M378.7,742 L374.5,735" fill="none" stroke="#2c3a34" stroke-opacity="0.66" stroke-width="1.1" stroke-linecap="round"/>
<g font-family="Liberation Serif,Times New Roman,serif" fill="#000">
<text transform="matrix(1.0610 -0.1791 0.0595 0.9378 101.4 544.3)" font-size="20" text-anchor="end" x="0" y="0" >0</text>
<text transform="matrix(1.0736 -0.1735 0.0608 0.9593 97.9 489.1)" font-size="20" text-anchor="end" x="0" y="0" >2</text>
<text transform="matrix(1.0865 -0.1675 0.0622 0.9815 94.3 432.7)" font-size="20" text-anchor="end" x="0" y="0" >4</text>
<text transform="matrix(1.0997 -0.1612 0.0637 1.0046 90.7 375)" font-size="20" text-anchor="end" x="0" y="0" >6</text>
<text transform="matrix(1.1132 -0.1546 0.0652 1.0284 86.9 315.9)" font-size="20" text-anchor="end" x="0" y="0" >8</text>
<text transform="matrix(1.1270 -0.1476 0.0668 1.0531 83.1 255.4)" font-size="20" text-anchor="end" x="0" y="0" >10</text>
<text transform="matrix(1.1412 -0.1403 0.0684 1.0787 79.1 193.4)" font-size="20" text-anchor="end" x="0" y="0" >12</text>
<text transform="matrix(1.1558 -0.1325 0.0701 1.1052 75.1 129.9)" font-size="20" text-anchor="end" x="0" y="0" >14</text>
<text transform="matrix(1.1707 -0.1243 0.0718 1.1328 71 64.9)" font-size="20" text-anchor="end" x="0" y="0" >16</text>
<text transform="matrix(1.1254 -0.2029 0.2765 0.5714 143.5 625.5)" font-size="20" text-anchor="end" x="0" y="0" >100</text>
<text transform="matrix(1.1920 -0.2310 0.3140 0.6488 189.2 719.9)" font-size="20" text-anchor="end" x="0" y="0" >200</text>
<text transform="matrix(1.2670 -0.2653 0.3597 0.7431 241.3 827.6)" font-size="20" text-anchor="end" x="0" y="0" >300</text>
<text transform="matrix(0.3632 0.7444 -1.2669 0.2657 248.4 828.9)" font-size="20" text-anchor="start" x="0" y="0" >0</text>
<text transform="matrix(0.4081 0.7227 -1.2294 0.2578 361 805.3)" font-size="20" text-anchor="start" x="0" y="0" >0.13</text>
<text transform="matrix(0.4533 0.7005 -1.1909 0.2498 478.6 780.6)" font-size="20" text-anchor="start" x="0" y="0" >0.27</text>
<text transform="matrix(0.4927 0.6807 -1.1567 0.2426 584.6 758.4)" font-size="20" text-anchor="start" x="0" y="0" >0.4</text>
<text transform="matrix(0.5296 0.6618 -1.1240 0.2357 687.5 736.8)" font-size="20" text-anchor="start" x="0" y="0" >0.53</text>
<text transform="matrix(0.5668 0.6423 -1.0903 0.2287 795 714.3)" font-size="20" text-anchor="start" x="0" y="0" >0.67</text>
<text transform="matrix(1.5086 -0.3273 0.6305 0.9171 566 814.4)" font-size="20" text-anchor="middle" x="0" y="0" >Molar ratio of γ-CD/PDMS</text>
<text transform="matrix(0.3292 0.7563 -1.4413 0.2690 98.2 682.4)" font-size="20" text-anchor="middle" x="0" y="0" >Stirring speed (rpm)</text>
<text transform="matrix(0.0986 1.3175 -1.4361 0.1975 28.7 313.2)" font-size="20" text-anchor="middle" x="0" y="0" >BSA adsoption (μg/cm<tspan font-size="12" dy="-8">2</tspan><tspan dy="8">)</tspan></text>
</g>
<text x="-1.6" y="82.8" font-size="57" font-family="Liberation Serif,Times New Roman,serif">d</text>
<rect x="874.6" y="79.3" width="50.3" height="506.5" fill="url(#cb)"/>
<rect x="874.6" y="585.8" width="50.3" height="5.4" fill="#000"/>
<rect x="874.6" y="74.2" width="50.3" height="516.6" fill="none" stroke="#2a2a2a" stroke-width="1.5"/>
<path d="M925.4,585.8 h12.6 M925.4,535.1 h12.6 M925.4,484.5 h12.6 M925.4,433.8 h12.6 M925.4,383.2 h12.6 M925.4,332.6 h12.6 M925.4,281.9 h12.6 M925.4,231.2 h12.6 M925.4,180.6 h12.6 M925.4,130 h12.6 M925.4,79.3 h12.6" stroke="#2a2a2a" stroke-width="1.6"/>
<g font-family="Liberation Serif,Times New Roman,serif" font-size="21.5" fill="#000">
<text x="945.3" y="593.4">0.000</text>
<text x="945.3" y="542.8">1.600</text>
<text x="945.3" y="492.1">3.200</text>
<text x="945.3" y="441.4">4.800</text>
<text x="945.3" y="390.8">6.400</text>
<text x="945.3" y="340.2">8.000</text>
<text x="945.3" y="289.5">9.600</text>
<text x="945.3" y="238.8">11.20</text>
<text x="945.3" y="188.2">12.80</text>
<text x="945.3" y="137.6">14.40</text>
<text x="945.3" y="86.9">16.00</text>
</g>
</g>
</svg></body></html>
